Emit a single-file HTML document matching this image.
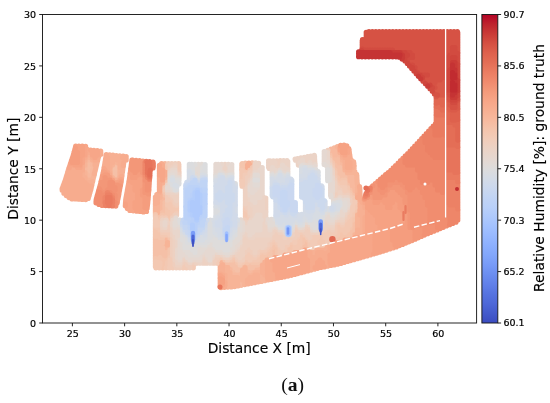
<!DOCTYPE html>
<html><head><meta charset="utf-8"><title>Relative Humidity ground truth</title>
<style>html,body{margin:0;padding:0;background:#fff}svg{display:block}</style></head>
<body><svg width="550" height="403" viewBox="0 0 550 403">
<defs><linearGradient id="cb" x1="0" y1="0" x2="0" y2="1"><stop offset="0" stop-color="#b40426"/><stop offset="0.03125" stop-color="#be242e"/><stop offset="0.0625" stop-color="#ca3b37"/><stop offset="0.09375" stop-color="#d55042"/><stop offset="0.125" stop-color="#de614d"/><stop offset="0.15625" stop-color="#e46e56"/><stop offset="0.1875" stop-color="#eb7d62"/><stop offset="0.21875" stop-color="#f08b6e"/><stop offset="0.25" stop-color="#f49a7b"/><stop offset="0.28125" stop-color="#f7a688"/><stop offset="0.3125" stop-color="#f7b093"/><stop offset="0.34375" stop-color="#f7ba9f"/><stop offset="0.375" stop-color="#f4c5ad"/><stop offset="0.40625" stop-color="#f1cdba"/><stop offset="0.4375" stop-color="#ebd3c6"/><stop offset="0.46875" stop-color="#e5d8d1"/><stop offset="0.5" stop-color="#dddcdc"/><stop offset="0.53125" stop-color="#d4dbe6"/><stop offset="0.5625" stop-color="#cbd8ee"/><stop offset="0.59375" stop-color="#c1d4f4"/><stop offset="0.625" stop-color="#b9d0f9"/><stop offset="0.65625" stop-color="#aec9fc"/><stop offset="0.6875" stop-color="#a2c1ff"/><stop offset="0.71875" stop-color="#97b8ff"/><stop offset="0.75" stop-color="#8caffe"/><stop offset="0.78125" stop-color="#82a6fb"/><stop offset="0.8125" stop-color="#779af7"/><stop offset="0.84375" stop-color="#6b8df0"/><stop offset="0.875" stop-color="#6180e9"/><stop offset="0.90625" stop-color="#5673e0"/><stop offset="0.9375" stop-color="#4e68d8"/><stop offset="0.96875" stop-color="#445acc"/><stop offset="1" stop-color="#3b4cc0"/></linearGradient></defs>
<rect width="550" height="403" fill="#fff"/>
<g fill="none" stroke-linecap="round" stroke-width="5.2"><path stroke="#f6bda2" d="M87.5 162.5h0M90 162.5h0M87.5 165h0M90 165h0M87.5 167.5h0M90 167.5h0M92.5 167.5h0M87.5 170h0M90 170h0M87.5 172.5h0M90 172.5h0M90 175h0M115 165h0M112.5 167.5h0M117.5 167.5h0M112.5 170h0M117.5 170h0M112.5 172.5h0M117.5 172.5h0M112.5 175h0M117.5 175h0M115 177.5h0M165 182.5h0M165 197.5h0M165 200h0M162.5 205h0M162.5 207.5h0M162.5 210h0M160 215h0M155.4 213h0M247.5 170h0M330 152.5h0M337.5 155h0M332.5 157.5h0M335 157.5h0M337.5 157.5h0M340 157.5h0M332.5 160h0M335 160h0M337.5 160h0M340 160h0M335 162.5h0M337.5 162.5h0M340 162.5h0M337.5 165h0M340 165h0M342.5 167.5h0M345 175h0M347.5 182.5h0M350 187.5h0M352.5 192.5h0M355 215h0M352.5 232.5h0M352.5 235h0M165 237.5h0M167.5 237.5h0M352.5 237.5h0M170 242.5h0M162.5 245h0M170 245h0M320 247.5h0M165 250h0M167.5 250h0M267.5 257.5h0M222.5 260h0M225 262.5h0M230 265h0M260 265h0M232.5 267.5h0M247.5 267.5h0M255 267.5h0M257.5 267.5h0M232.5 270h0M235 270h0M240 270h0M250 270h0M252.5 270h0M232.5 272.5h0M235 272.5h0M237.5 272.5h0M240 272.5h0M250 272.5h0"/><path stroke="#f7b99e" d="M87.5 160h0M90 160h0M92.5 162.5h0M92.5 165h0M85 167.5h0M85 170h0M92.5 170h0M92.5 172.5h0M87.5 175h0M92.5 175h0M87.5 177.5h0M90 177.5h0M115 162.5h0M117.5 165h0M117.5 177.5h0M165 180h0M162.5 190h0M162.5 192.5h0M162.5 195h0M162.5 197.5h0M160 200h0M162.5 200h0M160 202.5h0M162.5 202.5h0M160 205h0M160 207.5h0M160 210h0M160 212.5h0M155.4 211.4h0M165 163.6h0M250 167.5h0M332.5 150h0M335 150h0M337.5 150h0M332.5 152.5h0M335 152.5h0M337.5 152.5h0M332.5 155h0M335 155h0M340 155h0M342.5 162.5h0M342.5 165h0M345 172.5h0M347.5 175h0M350 175h0M352.5 175h0M355 175h0M347.5 177.5h0M350 177.5h0M352.5 177.5h0M355 177.5h0M347.5 180h0M350 180h0M352.5 180h0M355 180h0M350 182.5h0M352.5 182.5h0M355 182.5h0M350 185h0M352.5 185h0M355 185h0M352.5 187.5h0M355 187.5h0M352.5 190h0M355 190h0M355 192.5h0M355 195h0M334.3 147.9h0M331.1 149.2h0M357.5 205h0M357.5 207.5h0M357.5 210h0M357.5 212.5h0M355 217.5h0M355 220h0M355 222.5h0M355 225h0M355 227.5h0M355 230h0M355 232.5h0M165 240h0M167.5 240h0M165 242.5h0M165 245h0M165 247.5h0M167.5 247.5h0M220 262.5h0M262.5 262.5h0M225 265h0M227.5 265h0M245 265h0M230 267.5h0M242.5 267.5h0M260 267.5h0M230 270h0M247.5 270h0M255 270h0M257.5 270h0M260 270h0M247.5 272.5h0M252.5 272.5h0M232.5 275h0M235 275h0M237.5 275h0M240 275h0M250 275h0M240 277.5h0M240 280h0M240 282.5h0M242.5 282.5h0M241.2 285.3h0"/><path stroke="#f5c0a7" d="M115 167.5h0M115 170h0M115 172.5h0M115 175h0M167.5 175h0M167.5 177.5h0M167.5 180h0M165 185h0M165 195h0M165 202.5h0M165 205h0M165 207.5h0M165 210h0M162.5 212.5h0M165 212.5h0M157.5 215h0M165 215h0M252.2 162.9h0M245.4 163h0M330 155h0M335 165h0M335 167.5h0M337.5 167.5h0M340 167.5h0M337.5 170h0M340 170h0M342.5 170h0M337.5 172.5h0M340 172.5h0M342.5 172.5h0M337.5 175h0M340 175h0M342.5 175h0M340 177.5h0M342.5 177.5h0M345 177.5h0M340 180h0M347.5 185h0M350 190h0M352.5 195h0M355 197.5h0M355 212.5h0M352.5 222.5h0M352.5 225h0M352.5 227.5h0M350 230h0M352.5 230h0M350 232.5h0M350 235h0M157.5 237.5h0M350 237.5h0M157.5 240h0M160 240h0M162.5 240h0M170 240h0M305 240h0M157.5 242.5h0M160 242.5h0M162.5 242.5h0M305 242.5h0M307.5 242.5h0M157.5 245h0M160 245h0M302.5 245h0M305 245h0M307.5 245h0M157.5 247.5h0M160 247.5h0M162.5 247.5h0M170 247.5h0M275 247.5h0M290 247.5h0M302.5 247.5h0M305 247.5h0M307.5 247.5h0M157.5 250h0M160 250h0M162.5 250h0M272.5 250h0M275 250h0M290 250h0M302.5 250h0M157.5 252.5h0M160 252.5h0M162.5 252.5h0M165 252.5h0M167.5 252.5h0M272.5 252.5h0M275 252.5h0M157.5 255h0M160 255h0M162.5 255h0M165 255h0M167.5 255h0M267.5 255h0M272.5 255h0M275 255h0M157.5 257.5h0M162.5 257.5h0M165 257.5h0M167.5 257.5h0M265 257.5h0M270 257.5h0M272.5 257.5h0M165 260h0M220 260h0M235 260h0M262.5 260h0M227.5 262.5h0M230 262.5h0M232.5 262.5h0M235 262.5h0M245 262.5h0M250 262.5h0M260 262.5h0M232.5 265h0M235 265h0M237.5 265h0M242.5 265h0M247.5 265h0M250 265h0M252.5 265h0M255 265h0M257.5 265h0M235 267.5h0M237.5 267.5h0M240 267.5h0M250 267.5h0M252.5 267.5h0M237.5 270h0M155.4 237.8h0M155.4 239.4h0M155.4 241h0M155.4 242.6h0M155.4 244.2h0M155.4 245.8h0M155.4 247.4h0M155.4 249h0M155.4 250.6h0M155.4 252.2h0M155.4 253.8h0M155.4 255.4h0M155.4 257h0"/><path stroke="#f7b497" d="M87.5 157.5h0M90 157.5h0M85 162.5h0M85 165h0M85 172.5h0M85 175h0M87.5 180h0M90 180h0M92.9 179.9h0M93.3 178.3h0M93.7 176.8h0M94.1 175.2h0M115 160h0M117.5 162.5h0M112.5 165h0M110 170h0M120 170h0M120 172.5h0M120 175h0M112.5 177.5h0M165 165h0M165 177.5h0M162.5 185h0M162.5 187.5h0M160 195h0M160 197.5h0M157.5 205h0M157.5 207.5h0M157.5 210h0M157.5 212.5h0M155.4 205h0M155.4 206.6h0M155.4 208.2h0M155.4 209.8h0M342.5 160h0M345 170h0M352.5 170h0M347.5 172.5h0M350 172.5h0M352.5 172.5h0M357.5 187.5h0M357.5 190h0M357.5 192.5h0M357.5 202.5h0M357.7 203.8h0M357.4 183.9h0M357.2 182.3h0M357.1 180.7h0M357 179.1h0M356.9 177.5h0M356.9 175.9h0M356.6 174.4h0M354.8 171.5h0M354.1 168.2h0M354.1 166.6h0M337.4 146.7h0M357.5 215h0M357.5 217.5h0M360 217.5h0M357.5 220h0M360 220h0M357.5 222.5h0M360 222.5h0M357.5 225h0M360 225h0M357.5 227.5h0M360 227.5h0M355 235h0M167.5 242.5h0M167.5 245h0M325 245h0M315 247.5h0M317.5 247.5h0M322.5 247.5h0M325 247.5h0M265 260h0M222.5 262.5h0M225 267.5h0M227.5 267.5h0M245 267.5h0M225 270h0M227.5 270h0M242.5 270h0M245 270h0M225 272.5h0M227.5 272.5h0M230 272.5h0M242.5 272.5h0M245 272.5h0M255 272.5h0M257.5 272.5h0M260 272.5h0M227.5 275h0M230 275h0M242.5 275h0M245 275h0M247.5 275h0M252.5 275h0M260 275h0M262.5 275h0M227.5 277.5h0M230 277.5h0M232.5 277.5h0M235 277.5h0M237.5 277.5h0M242.5 277.5h0M245 277.5h0M247.5 277.5h0M260 277.5h0M262.5 277.5h0M265 277.5h0M227.5 280h0M230 280h0M232.5 280h0M235 280h0M237.5 280h0M242.5 280h0M245 280h0M260 280h0M262.5 280h0M227.5 282.5h0M230 282.5h0M232.5 282.5h0M235 282.5h0M237.5 282.5h0M245 282.5h0M227.5 285h0M230 285h0M232.5 285h0M235 285h0M237.5 285h0M220 264.4h0M227.8 287.1h0M231.2 286.9h0M234.6 286.6h0M237.9 285.9h0M244.6 284.6h0M261.3 281.4h0M264.6 280.7h0"/><path stroke="#f4c5ad" d="M167.5 170h0M167.5 172.5h0M167.5 182.5h0M165 192.5h0M167.5 207.5h0M167.5 210h0M170 210h0M167.5 212.5h0M170 212.5h0M162.5 215h0M167.5 215h0M170 215h0M155.4 214.6h0M158.9 217.8h0M169.1 217.8h0M245 165h0M252.5 165h0M245 167.5h0M245 170h0M247.5 215h0M241.8 164h0M241.8 165.6h0M241.8 167.2h0M241.8 168.8h0M242.2 163.6h0M330 157.5h0M332.5 162.5h0M335 170h0M337.5 177.5h0M337.5 180h0M342.5 180h0M345 180h0M340 182.5h0M350 192.5h0M355 210h0M352.5 217.5h0M352.5 220h0M350 227.5h0M157.5 230h0M157.5 232.5h0M160 232.5h0M340 232.5h0M342.5 232.5h0M347.5 232.5h0M157.5 235h0M160 235h0M340 235h0M342.5 235h0M345 235h0M347.5 235h0M160 237.5h0M162.5 237.5h0M170 237.5h0M302.5 237.5h0M305 237.5h0M337.5 237.5h0M340 237.5h0M342.5 237.5h0M345 237.5h0M347.5 237.5h0M302.5 240h0M307.5 240h0M337.5 240h0M340 240h0M342.5 240h0M302.5 242.5h0M272.5 245h0M275 245h0M290 245h0M292.5 245h0M272.5 247.5h0M277.5 247.5h0M287.5 247.5h0M292.5 247.5h0M300 247.5h0M170 250h0M270 250h0M277.5 250h0M287.5 250h0M292.5 250h0M300 250h0M170 252.5h0M262.5 252.5h0M267.5 252.5h0M270 252.5h0M277.5 252.5h0M287.5 252.5h0M290 252.5h0M292.5 252.5h0M170 255h0M260 255h0M262.5 255h0M265 255h0M270 255h0M277.5 255h0M160 257.5h0M260 257.5h0M262.5 257.5h0M157.5 260h0M160 260h0M162.5 260h0M167.5 260h0M225 260h0M232.5 260h0M260 260h0M162.5 262.5h0M165 262.5h0M237.5 262.5h0M247.5 262.5h0M252.5 262.5h0M255 262.5h0M257.5 262.5h0M162.5 265h0M165 265h0M155.4 228.2h0M155.4 229.8h0M155.4 231.4h0M155.4 233h0M155.4 234.6h0M155.4 236.2h0M155.4 258.6h0M155.4 260.2h0M162.7 267.8h0"/><path stroke="#f7b093" d="M87.5 155h0M90 155h0M85 160h0M92.5 160h0M95 162.5h0M95 165h0M82.5 172.5h0M82.5 175h0M82.5 177.5h0M85 177.5h0M85 180h0M87.5 182.5h0M90 182.5h0M90 185h0M91.9 184.6h0M92.2 183h0M92.6 181.5h0M94.4 173.7h0M94.8 172.1h0M95.2 170.6h0M95.6 169h0M95.9 167.4h0M96.3 165.9h0M96.7 164.3h0M97 162.8h0M97.4 161.2h0M110 157.5h0M112.5 157.5h0M115 157.5h0M117.5 157.5h0M120 157.5h0M110 160h0M112.5 160h0M117.5 160h0M120 160h0M122.5 160h0M110 162.5h0M112.5 162.5h0M120 162.5h0M122.5 162.5h0M110 165h0M120 165h0M110 167.5h0M120 167.5h0M110 172.5h0M120 177.5h0M115 180h0M117.5 180h0M122 175h0M122.2 173.4h0M122.5 171.8h0M122.7 170.2h0M122.9 168.6h0M123.1 167.1h0M119.7 155.8h0M116.3 155.5h0M112.9 155.1h0M109.6 154.8h0M165 167.5h0M165 170h0M162.5 182.5h0M157.5 197.5h0M157.5 200h0M157.5 202.5h0M159.4 192.6h0M156.8 194.5h0M155.4 197h0M155.4 198.6h0M155.4 200.2h0M155.4 201.8h0M155.4 203.4h0M247.5 165h0M250 165h0M247.5 167.5h0M248.8 163h0M340 152.5h0M342.5 157.5h0M345 160h0M345 162.5h0M352.5 162.5h0M345 165h0M352.5 165h0M345 167.5h0M352.5 167.5h0M347.5 170h0M350 170h0M357.5 195h0M357.5 200h0M360.2 202.5h0M360.2 200.9h0M354 165h0M353.9 163.4h0M353.6 161.9h0M351 159.7h0M360 202.5h0M360 205h0M362.5 205h0M360 207.5h0M362.5 207.5h0M360 210h0M362.5 210h0M365 210h0M360 212.5h0M362.5 212.5h0M365 212.5h0M360 215h0M362.5 215h0M365 215h0M362.5 217.5h0M362.5 220h0M362.5 222.5h0M362.5 225h0M362.5 227.5h0M357.5 230h0M360 230h0M362.5 230h0M357.5 232.5h0M360 232.5h0M362.5 232.5h0M357.5 235h0M360 235h0M362.5 235h0M327.5 245h0M327.5 247.5h0M310 250h0M312.5 250h0M315 250h0M317.5 250h0M320 250h0M322.5 250h0M325 250h0M327.5 250h0M312.5 252.5h0M315 252.5h0M325 252.5h0M312.5 255h0M315 255h0M265 262.5h0M222.5 265h0M262.5 265h0M265 265h0M222.5 267.5h0M262.5 267.5h0M265 267.5h0M222.5 270h0M262.5 270h0M265 270h0M222.5 272.5h0M262.5 272.5h0M265 272.5h0M225 275h0M255 275h0M257.5 275h0M265 275h0M225 277.5h0M250 277.5h0M252.5 277.5h0M255 277.5h0M257.5 277.5h0M225 280h0M247.5 280h0M250 280h0M252.5 280h0M255 280h0M257.5 280h0M247.5 282.5h0M250 282.5h0M220.2 266h0M220.2 267.6h0M220.2 269.2h0M220.2 270.8h0M220.2 272.4h0M247.9 284h0M251.3 283.3h0M254.6 282.7h0M257.9 282h0M358 201.5h0"/><path stroke="#f3c8b2" d="M167.5 165h0M167.5 167.5h0M165 187.5h0M170 200h0M167.5 202.5h0M170 202.5h0M172.5 202.5h0M167.5 205h0M170 205h0M172.5 205h0M170 207.5h0M172.5 207.5h0M175 207.5h0M172.5 210h0M175 210h0M172.5 212.5h0M175 212.5h0M172.5 215h0M155.4 216.2h0M176.6 211.8h0M176.6 210.2h0M176.6 208.6h0M176.6 207h0M252.5 167.5h0M250 170h0M245 172.5h0M247.5 172.5h0M247.5 212.5h0M241.8 170.4h0M241.8 172h0M241.8 173.6h0M241.8 175.2h0M241.8 176.8h0M241.8 178.4h0M241.8 180h0M245.4 210.1h0M245.4 211.7h0M245.4 213.3h0M245.4 214.9h0M245.4 216.5h0M245.8 217.8h0M332.5 165h0M335 172.5h0M335 175h0M337.5 182.5h0M342.5 182.5h0M345 182.5h0M340 185h0M342.5 185h0M345 185h0M347.5 187.5h0M347.5 190h0M350 195h0M352.5 197.5h0M352.5 200h0M355 200h0M355 202.5h0M354.3 204.5h0M355 205h0M355 207.5h0M352.5 212.5h0M352.5 215h0M350 217.5h0M347.5 220h0M350 220h0M345 222.5h0M347.5 222.5h0M350 222.5h0M337.5 225h0M340 225h0M345 225h0M347.5 225h0M350 225h0M157.5 227.5h0M160 227.5h0M337.5 227.5h0M340 227.5h0M342.5 227.5h0M345 227.5h0M347.5 227.5h0M160 230h0M337.5 230h0M340 230h0M342.5 230h0M345 230h0M347.5 230h0M337.5 232.5h0M345 232.5h0M162.5 235h0M165 235h0M167.5 235h0M300 235h0M302.5 235h0M320 235h0M322.5 235h0M335 235h0M337.5 235h0M300 237.5h0M320 237.5h0M322.5 237.5h0M335 237.5h0M297.5 240h0M300 240h0M317.5 240h0M320 240h0M322.5 240h0M325 240h0M335 240h0M272.5 242.5h0M275 242.5h0M290 242.5h0M292.5 242.5h0M297.5 242.5h0M300 242.5h0M310 242.5h0M317.5 242.5h0M320 242.5h0M322.5 242.5h0M325 242.5h0M277.5 245h0M295 245h0M297.5 245h0M300 245h0M310 245h0M317.5 245h0M320 245h0M322.5 245h0M270 247.5h0M295 247.5h0M297.5 247.5h0M310 247.5h0M267.5 250h0M280 250h0M295 250h0M297.5 250h0M260 252.5h0M265 252.5h0M280 252.5h0M280 255h0M170 257.5h0M232.5 257.5h0M235 257.5h0M257.5 257.5h0M230 260h0M245 260h0M247.5 260h0M252.5 260h0M255 260h0M257.5 260h0M157.5 262.5h0M160 262.5h0M167.5 262.5h0M242.5 262.5h0M157.5 265h0M160 265h0M167.5 265h0M240 265h0M155.4 226.6h0M155.4 261.8h0M155.4 263.4h0M155.4 265h0M155.4 266.6h0M155.9 267.8h0M159.3 267.8h0M166.1 267.8h0M169.5 220.2h0M159.3 220.2h0"/><path stroke="#f7ac8e" d="M87.5 152.5h0M90 152.5h0M85 157.5h0M92.5 157.5h0M95 160h0M82.5 165h0M72.5 167.5h0M75 167.5h0M82.5 167.5h0M70 170h0M72.5 170h0M75 170h0M77.5 170h0M80 170h0M82.5 170h0M70 172.5h0M72.5 172.5h0M75 172.5h0M77.5 172.5h0M80 172.5h0M70 175h0M72.5 175h0M75 175h0M77.5 175h0M80 175h0M67.5 177.5h0M70 177.5h0M72.5 177.5h0M75 177.5h0M77.5 177.5h0M80 177.5h0M67.5 180h0M70 180h0M72.5 180h0M75 180h0M77.5 180h0M80 180h0M82.5 180h0M67.5 182.5h0M70 182.5h0M72.5 182.5h0M75 182.5h0M77.5 182.5h0M80 182.5h0M82.5 182.5h0M85 182.5h0M65 185h0M67.5 185h0M70 185h0M72.5 185h0M75 185h0M77.5 185h0M80 185h0M82.5 185h0M85 185h0M87.5 185h0M65 187.5h0M67.5 187.5h0M70 187.5h0M72.5 187.5h0M75 187.5h0M77.5 187.5h0M80 187.5h0M82.5 187.5h0M85 187.5h0M87.5 187.5h0M90 187.5h0M65 190h0M67.5 190h0M70 190h0M72.5 190h0M75 190h0M77.5 190h0M80 190h0M82.5 190h0M85 190h0M87.5 190h0M65 192.5h0M67.5 192.5h0M70 192.5h0M72.5 192.5h0M75 192.5h0M77.5 192.5h0M80 192.5h0M82.5 192.5h0M85 192.5h0M87.5 192.5h0M67.5 195h0M70 195h0M72.5 195h0M75 195h0M77.5 195h0M80 195h0M82.5 195h0M85 195h0M87.5 195h0M72.5 197.5h0M75 197.5h0M77.5 197.5h0M80 197.5h0M82.5 197.5h0M85 197.5h0M68.7 169.2h0M68.2 170.7h0M67.7 172.2h0M67.3 173.8h0M66.8 175.3h0M66.3 176.8h0M65.9 178.4h0M65.4 179.9h0M64.9 181.4h0M64.3 182.9h0M63.8 184.4h0M63.2 185.9h0M62.7 187.4h0M62.1 188.9h0M62.2 190.3h0M63.9 193.2h0M66.3 195.6h0M69.1 197.6h0M72.1 198.9h0M75.5 199h0M78.9 199.2h0M82.3 199.4h0M85.7 199.6h0M88.2 198.5h0M88.6 197h0M89.1 195.4h0M89.5 193.9h0M90 192.3h0M90.4 190.8h0M90.9 189.3h0M91.2 187.7h0M91.6 186.1h0M97.8 159.7h0M98.2 158.1h0M98.7 156.6h0M100.8 154.2h0M100.8 152.6h0M100.7 151h0M87.2 149.4h0M107.5 157.5h0M122.5 157.5h0M125 157.5h0M107.5 160h0M107.5 162.5h0M107.5 165h0M107.5 167.5h0M107.5 170h0M110 175h0M106.3 154.5h0M106 156h0M105.8 157.6h0M105.5 159.2h0M105.3 160.8h0M105 162.4h0M104.8 163.9h0M104.5 165.5h0M104.2 167.1h0M121.6 178.1h0M121.8 176.6h0M123.4 165.5h0M123.6 163.9h0M123.9 162.3h0M126.2 159.9h0M126.2 158.3h0M126.2 156.7h0M123.1 156.2h0M162.5 165h0M162.5 167.5h0M165 172.5h0M165 175h0M159.4 176.6h0M159.4 178.2h0M159.4 179.8h0M159.4 181.4h0M159.4 183h0M159.4 184.6h0M159.4 186.2h0M159.4 187.8h0M159.4 189.4h0M159.4 191h0M161.6 163.6h0M342.5 155h0M347.5 155h0M345 157.5h0M347.5 157.5h0M347.5 160h0M347.5 162.5h0M350 162.5h0M347.5 165h0M350 165h0M347.5 167.5h0M350 167.5h0M357.5 197.5h0M360.2 199.3h0M360.2 197.7h0M360.2 196.1h0M360.1 194.5h0M360 192.9h0M360 191.3h0M359.9 189.7h0M359.8 188.1h0M359.5 186.6h0M350 156.6h0M349.8 155h0M349.5 153.4h0M349.3 151.8h0M349.1 150.2h0M362.5 202.5h0M365 205h0M365 207.5h0M365 217.5h0M365 220h0M365 222.5h0M365 225h0M365 227.5h0M365 230h0M365 232.5h0M330 245h0M330 247.5h0M307.5 250h0M330 250h0M307.5 252.5h0M310 252.5h0M317.5 252.5h0M320 252.5h0M322.5 252.5h0M327.5 252.5h0M330 252.5h0M307.5 255h0M310 255h0M317.5 255h0M320 255h0M322.5 255h0M325 255h0M327.5 255h0M307.5 257.5h0M310 257.5h0M312.5 257.5h0M315 257.5h0M317.5 257.5h0M320 257.5h0M322.5 257.5h0M325 257.5h0M327.5 257.5h0M267.5 260h0M270 260h0M310 260h0M312.5 260h0M315 260h0M317.5 260h0M322.5 260h0M325 260h0M327.5 260h0M267.5 262.5h0M270 262.5h0M272.5 262.5h0M310 262.5h0M312.5 262.5h0M315 262.5h0M325 262.5h0M327.5 262.5h0M267.5 265h0M270 265h0M272.5 265h0M310 265h0M312.5 265h0M315 265h0M325 265h0M327.5 265h0M267.5 267.5h0M270 267.5h0M272.5 267.5h0M310 267.5h0M312.5 267.5h0M267.5 270h0M270 270h0M272.5 270h0M267.5 272.5h0M270 272.5h0M272.5 272.5h0M275 272.5h0M222.5 275h0M267.5 275h0M270 275h0M272.5 275h0M275 275h0M267.5 277.5h0M270 277.5h0M272.5 277.5h0M275 277.5h0M225 282.5h0M225 285h0M220.2 274h0M224.4 287.3h0M267.9 280h0M271.3 279.4h0M274.6 278.7h0M311 270.1h0M314.3 269.2h0M327.5 266.2h0M361.3 200.6h0"/><path stroke="#f2cbb7" d="M177.5 165h0M177.5 167.5h0M177.5 170h0M165 190h0M167.5 195h0M167.5 197.5h0M170 197.5h0M167.5 200h0M172.5 200h0M175 205h0M155.5 217.8h0M162.3 217.8h0M165.7 217.8h0M176.6 213.4h0M176.6 205.4h0M178.9 171.2h0M178.9 169.6h0M178.9 168h0M178.9 166.4h0M178.9 164.8h0M178.6 163.6h0M168.4 163.6h0M252.5 170h0M245 175h0M247.5 175h0M245 177.5h0M245 180h0M245 182.5h0M245 185h0M247.5 210h0M241.8 181.6h0M241.8 183.2h0M241.8 184.8h0M242.1 186.2h0M245.1 187.7h0M245.4 206.9h0M245.4 208.5h0M249.2 217.8h0M330 160h0M332.5 167.5h0M335 177.5h0M337.5 185h0M340 187.5h0M342.5 187.5h0M345 187.5h0M342.5 190h0M345 190h0M342.5 192.5h0M345 192.5h0M347.5 192.5h0M345 195h0M350 197.5h0M352.5 202.5h0M351 205.3h0M350 205h0M352.5 205h0M350 207.5h0M352.5 207.5h0M350 210h0M352.5 210h0M350 212.5h0M347.5 215h0M350 215h0M347.5 217.5h0M345 220h0M157.5 222.5h0M160 222.5h0M170 222.5h0M337.5 222.5h0M340 222.5h0M157.5 225h0M160 225h0M335 225h0M342.5 225h0M335 227.5h0M327.5 230h0M330 230h0M335 230h0M162.5 232.5h0M165 232.5h0M167.5 232.5h0M170 232.5h0M300 232.5h0M302.5 232.5h0M320 232.5h0M322.5 232.5h0M325 232.5h0M327.5 232.5h0M330 232.5h0M332.5 232.5h0M335 232.5h0M170 235h0M305 235h0M312.5 235h0M315 235h0M317.5 235h0M325 235h0M327.5 235h0M330 235h0M332.5 235h0M297.5 237.5h0M307.5 237.5h0M312.5 237.5h0M315 237.5h0M317.5 237.5h0M325 237.5h0M327.5 237.5h0M330 237.5h0M332.5 237.5h0M272.5 240h0M275 240h0M292.5 240h0M295 240h0M310 240h0M312.5 240h0M315 240h0M327.5 240h0M330 240h0M332.5 240h0M270 242.5h0M277.5 242.5h0M295 242.5h0M312.5 242.5h0M315 242.5h0M327.5 242.5h0M330 242.5h0M332.5 242.5h0M270 245h0M285 245h0M287.5 245h0M312.5 245h0M315 245h0M267.5 247.5h0M280 247.5h0M285 247.5h0M312.5 247.5h0M260 250h0M262.5 250h0M265 250h0M282.5 250h0M285 250h0M247.5 252.5h0M250 252.5h0M282.5 252.5h0M285 252.5h0M245 255h0M247.5 255h0M250 255h0M252.5 255h0M257.5 255h0M282.5 255h0M172.5 257.5h0M220 257.5h0M222.5 257.5h0M245 257.5h0M247.5 257.5h0M250 257.5h0M252.5 257.5h0M255 257.5h0M170 260h0M172.5 260h0M217.5 260h0M227.5 260h0M237.5 260h0M250 260h0M170 262.5h0M172.5 262.5h0M185 262.5h0M240 262.5h0M170 265h0M172.5 265h0M182.5 265h0M185 265h0M192.5 265h0M155.4 220.2h0M155.4 221.8h0M155.4 223.4h0M155.4 225h0M169.5 267.8h0M172.9 267.8h0M183.1 267.8h0M186.5 267.8h0M193.3 267.8h0M193.9 264.8h0M217 263.2h0M354.7 202.3h0M351.4 203.2h0M247.7 219.8h0M155.9 220.2h0"/><path stroke="#f7a688" d="M85 150h0M85 152.5h0M92.5 152.5h0M95 152.5h0M97.5 152.5h0M85 155h0M92.5 155h0M95 155h0M97.5 155h0M82.5 157.5h0M95 157.5h0M82.5 160h0M82.5 162.5h0M72.5 165h0M77.5 167.5h0M80 167.5h0M70.2 164.6h0M69.7 166.1h0M69.2 167.7h0M97.3 150.7h0M93.9 150.3h0M90.6 150h0M85.6 146.4h0M105 170h0M107.5 172.5h0M120 180h0M104 168.7h0M103.7 170.3h0M121.3 179.7h0M130 182.5h0M130 185h0M132.5 185h0M130 187.5h0M132.5 187.5h0M130 190h0M132.5 190h0M130 192.5h0M132.5 192.5h0M135 192.5h0M130 195h0M132.5 195h0M135 195h0M127.5 197.5h0M130 197.5h0M132.5 197.5h0M135 197.5h0M127.5 200h0M130 200h0M132.5 200h0M135 200h0M127.5 202.5h0M130 202.5h0M132.5 202.5h0M127.5 205h0M130 205h0M132.5 205h0M130 207.5h0M132.5 207.5h0M128.9 182.1h0M128.6 183.7h0M128.3 185.3h0M128 186.9h0M127.7 188.4h0M127.4 190h0M127.2 191.6h0M126.9 193.2h0M126.6 194.7h0M126.3 196.3h0M126 197.9h0M125.7 199.5h0M125.6 201h0M125.5 202.6h0M127.4 208.4h0M129.9 210.4h0M133.3 210.8h0M162.5 170h0M162.5 172.5h0M162.5 175h0M162.5 177.5h0M162.5 180h0M159.4 165.4h0M159.4 167h0M159.4 168.6h0M159.4 170.2h0M159.4 171.8h0M159.4 173.4h0M159.4 175h0M340 147.5h0M340 150h0M347.5 150h0M347.5 152.5h0M345 155h0M348.7 148.7h0M365 202.5h0M367.5 210h0M367.5 212.5h0M370 212.5h0M367.5 215h0M370 215h0M372.5 215h0M367.5 217.5h0M370 217.5h0M372.5 217.5h0M375 217.5h0M367.5 220h0M370 220h0M372.5 220h0M375 220h0M367.5 222.5h0M370 222.5h0M372.5 222.5h0M375 222.5h0M367.5 225h0M370 225h0M372.5 225h0M375 225h0M377.5 225h0M367.5 227.5h0M370 227.5h0M372.5 227.5h0M375 227.5h0M377.5 227.5h0M367.5 230h0M370 230h0M372.5 230h0M375 230h0M377.5 230h0M367.5 232.5h0M370 232.5h0M372.5 232.5h0M365 235h0M367.5 235h0M370 235h0M372.5 235h0M355 237.5h0M357.5 237.5h0M360 237.5h0M362.5 237.5h0M365 237.5h0M367.5 237.5h0M370 237.5h0M372.5 237.5h0M345 240h0M347.5 240h0M350 240h0M352.5 240h0M355 240h0M357.5 240h0M360 240h0M362.5 240h0M365 240h0M367.5 240h0M370 240h0M372.5 240h0M335 242.5h0M337.5 242.5h0M340 242.5h0M342.5 242.5h0M345 242.5h0M347.5 242.5h0M350 242.5h0M352.5 242.5h0M355 242.5h0M357.5 242.5h0M360 242.5h0M362.5 242.5h0M365 242.5h0M367.5 242.5h0M370 242.5h0M372.5 242.5h0M332.5 245h0M335 245h0M337.5 245h0M340 245h0M342.5 245h0M345 245h0M347.5 245h0M350 245h0M352.5 245h0M355 245h0M357.5 245h0M360 245h0M362.5 245h0M365 245h0M367.5 245h0M370 245h0M372.5 245h0M332.5 247.5h0M335 247.5h0M337.5 247.5h0M340 247.5h0M342.5 247.5h0M345 247.5h0M347.5 247.5h0M350 247.5h0M352.5 247.5h0M355 247.5h0M357.5 247.5h0M360 247.5h0M362.5 247.5h0M365 247.5h0M367.5 247.5h0M370 247.5h0M372.5 247.5h0M305 250h0M332.5 250h0M335 250h0M337.5 250h0M340 250h0M342.5 250h0M345 250h0M347.5 250h0M350 250h0M352.5 250h0M355 250h0M357.5 250h0M360 250h0M362.5 250h0M365 250h0M367.5 250h0M370 250h0M372.5 250h0M295 252.5h0M297.5 252.5h0M300 252.5h0M302.5 252.5h0M305 252.5h0M332.5 252.5h0M335 252.5h0M337.5 252.5h0M340 252.5h0M342.5 252.5h0M345 252.5h0M347.5 252.5h0M350 252.5h0M352.5 252.5h0M355 252.5h0M357.5 252.5h0M360 252.5h0M362.5 252.5h0M365 252.5h0M367.5 252.5h0M370 252.5h0M372.5 252.5h0M285 255h0M287.5 255h0M290 255h0M292.5 255h0M295 255h0M297.5 255h0M300 255h0M302.5 255h0M305 255h0M330 255h0M332.5 255h0M335 255h0M337.5 255h0M340 255h0M342.5 255h0M345 255h0M347.5 255h0M350 255h0M352.5 255h0M355 255h0M357.5 255h0M360 255h0M362.5 255h0M365 255h0M275 257.5h0M277.5 257.5h0M280 257.5h0M282.5 257.5h0M285 257.5h0M287.5 257.5h0M290 257.5h0M292.5 257.5h0M295 257.5h0M297.5 257.5h0M300 257.5h0M302.5 257.5h0M305 257.5h0M330 257.5h0M332.5 257.5h0M335 257.5h0M337.5 257.5h0M340 257.5h0M342.5 257.5h0M345 257.5h0M347.5 257.5h0M350 257.5h0M352.5 257.5h0M355 257.5h0M357.5 257.5h0M272.5 260h0M275 260h0M277.5 260h0M280 260h0M282.5 260h0M285 260h0M287.5 260h0M290 260h0M292.5 260h0M295 260h0M297.5 260h0M300 260h0M302.5 260h0M305 260h0M307.5 260h0M320 260h0M330 260h0M332.5 260h0M335 260h0M337.5 260h0M340 260h0M342.5 260h0M345 260h0M347.5 260h0M275 262.5h0M277.5 262.5h0M280 262.5h0M282.5 262.5h0M285 262.5h0M287.5 262.5h0M290 262.5h0M292.5 262.5h0M295 262.5h0M297.5 262.5h0M300 262.5h0M302.5 262.5h0M305 262.5h0M307.5 262.5h0M317.5 262.5h0M320 262.5h0M322.5 262.5h0M330 262.5h0M332.5 262.5h0M335 262.5h0M337.5 262.5h0M340 262.5h0M275 265h0M277.5 265h0M280 265h0M282.5 265h0M285 265h0M287.5 265h0M290 265h0M292.5 265h0M295 265h0M297.5 265h0M300 265h0M302.5 265h0M305 265h0M307.5 265h0M317.5 265h0M320 265h0M322.5 265h0M275 267.5h0M277.5 267.5h0M280 267.5h0M282.5 267.5h0M285 267.5h0M287.5 267.5h0M290 267.5h0M292.5 267.5h0M295 267.5h0M297.5 267.5h0M300 267.5h0M302.5 267.5h0M305 267.5h0M307.5 267.5h0M315 267.5h0M275 270h0M277.5 270h0M280 270h0M282.5 270h0M285 270h0M287.5 270h0M290 270h0M292.5 270h0M295 270h0M297.5 270h0M300 270h0M302.5 270h0M305 270h0M277.5 272.5h0M280 272.5h0M282.5 272.5h0M285 272.5h0M287.5 272.5h0M290 272.5h0M292.5 272.5h0M295 272.5h0M297.5 272.5h0M277.5 275h0M280 275h0M282.5 275h0M285 275h0M287.5 275h0M222.5 277.5h0M222.5 285h0M220.2 275.6h0M220.2 277.2h0M220.2 286.8h0M221 287.6h0M277.9 278.1h0M281.3 277.4h0M284.6 276.8h0M288 276.1h0M291.3 275.3h0M294.6 274.5h0M297.8 273.6h0M301.1 272.7h0M304.4 271.8h0M307.7 271h0M317.5 268.3h0M320.9 267.5h0M324.2 266.9h0M330.9 265.5h0M334.2 264.9h0M337.5 264.2h0M340.8 263.4h0M344.1 262.5h0M347.4 261.5h0M350.6 260.6h0M353.9 259.7h0M357.2 258.7h0M360.4 257.8h0M363.7 256.8h0M367 255.9h0M370.2 255h0"/><path stroke="#efcebd" d="M170 165h0M172.5 165h0M170 167.5h0M177.5 172.5h0M170 195h0M172.5 197.5h0M175 200h0M175 202.5h0M175 215h0M172.5 217.8h0M176.6 215h0M176.6 203.8h0M176.6 202.2h0M178.9 172.8h0M175.2 163.6h0M171.8 163.6h0M250 172.5h0M252.5 172.5h0M250 175h0M247.5 177.5h0M250 177.5h0M247.5 180h0M247.5 182.5h0M247.5 185h0M247.5 205h0M247.5 207.5h0M250 215h0M245.4 189.3h0M245.4 205.3h0M330 162.5h0M335 180h0M337.5 187.5h0M337.5 190h0M340 190h0M335 192.5h0M337.5 192.5h0M335 195h0M337.5 195h0M342.5 195h0M347.5 195h0M335 197.5h0M350 200h0M350 202.5h0M327.9 150.4h0M347.5 212.5h0M345 217.5h0M335 222.5h0M342.5 222.5h0M167.5 225h0M170 225h0M167.5 227.5h0M170 227.5h0M307.5 227.5h0M330 227.5h0M162.5 230h0M165 230h0M167.5 230h0M170 230h0M275 230h0M295 230h0M297.5 230h0M305 230h0M307.5 230h0M310 230h0M325 230h0M332.5 230h0M275 232.5h0M277.5 232.5h0M295 232.5h0M297.5 232.5h0M305 232.5h0M307.5 232.5h0M310 232.5h0M315 232.5h0M272.5 235h0M275 235h0M277.5 235h0M280 235h0M282.5 235h0M295 235h0M297.5 235h0M307.5 235h0M310 235h0M172.5 237.5h0M272.5 237.5h0M275 237.5h0M277.5 237.5h0M280 237.5h0M282.5 237.5h0M287.5 237.5h0M290 237.5h0M292.5 237.5h0M295 237.5h0M310 237.5h0M172.5 240h0M270 240h0M277.5 240h0M280 240h0M282.5 240h0M285 240h0M287.5 240h0M290 240h0M172.5 242.5h0M267.5 242.5h0M280 242.5h0M282.5 242.5h0M285 242.5h0M287.5 242.5h0M172.5 245h0M267.5 245h0M280 245h0M282.5 245h0M172.5 247.5h0M247.5 247.5h0M250 247.5h0M260 247.5h0M265 247.5h0M282.5 247.5h0M172.5 250h0M245 250h0M247.5 250h0M250 250h0M252.5 250h0M257.5 250h0M172.5 252.5h0M245 252.5h0M252.5 252.5h0M257.5 252.5h0M172.5 255h0M232.5 255h0M235 255h0M255 255h0M215 257.5h0M217.5 257.5h0M230 257.5h0M237.5 257.5h0M242.5 257.5h0M185 260h0M212.5 260h0M215 260h0M240 260h0M242.5 260h0M175 262.5h0M182.5 262.5h0M187.5 262.5h0M192.5 262.5h0M175 265h0M187.5 265h0M190 265h0M176.3 267.8h0M179.7 267.8h0M189.9 267.8h0M213.6 263.2h0M244.3 219.9h0"/><path stroke="#f6a283" d="M77.5 147.5h0M80 147.5h0M82.5 147.5h0M77.5 150h0M80 150h0M82.5 150h0M80 152.5h0M82.5 152.5h0M80 155h0M82.5 155h0M80 157.5h0M80 160h0M80 162.5h0M75 165h0M77.5 165h0M80 165h0M75.7 146.2h0M71.2 161.6h0M70.7 163.1h0M82.3 146.2h0M78.9 146.2h0M105 172.5h0M110 177.5h0M112.5 180h0M115 182.5h0M117.5 182.5h0M103.4 171.8h0M103 173.4h0M102.7 174.9h0M121.1 181.3h0M140 175h0M137.5 177.5h0M140 177.5h0M142.5 177.5h0M132.5 180h0M135 180h0M137.5 180h0M140 180h0M142.5 180h0M132.5 182.5h0M135 182.5h0M137.5 182.5h0M140 182.5h0M142.5 182.5h0M135 185h0M137.5 185h0M140 185h0M142.5 185h0M135 187.5h0M137.5 187.5h0M140 187.5h0M142.5 187.5h0M135 190h0M137.5 190h0M140 190h0M137.5 192.5h0M140 192.5h0M137.5 195h0M140 195h0M137.5 197.5h0M140 197.5h0M142.5 197.5h0M137.5 200h0M140 200h0M142.5 200h0M135 202.5h0M137.5 202.5h0M140 202.5h0M142.5 202.5h0M135 205h0M137.5 205h0M140 205h0M142.5 205h0M135 207.5h0M137.5 207.5h0M140 207.5h0M142.5 207.5h0M137.5 210h0M140 210h0M142.5 210h0M145 210h0M130 174.2h0M129.8 175.8h0M129.6 177.4h0M129.4 179h0M129.2 180.6h0M125.4 204.2h0M125.3 205.8h0M136.7 211.2h0M140.1 211.5h0M143.4 211.9h0M146.5 211.5h0M342.5 147.5h0M345 147.5h0M342.5 150h0M345 150h0M342.5 152.5h0M345 152.5h0M346.8 145.9h0M344 145h0M340.6 145.4h0M370 197.5h0M367.5 200h0M370 200h0M372.5 200h0M395 200h0M367.5 202.5h0M370 202.5h0M372.5 202.5h0M380 202.5h0M382.5 202.5h0M395 202.5h0M397.5 202.5h0M367.5 205h0M370 205h0M372.5 205h0M375 205h0M377.5 205h0M380 205h0M382.5 205h0M385 205h0M392.5 205h0M395 205h0M397.5 205h0M367.5 207.5h0M370 207.5h0M372.5 207.5h0M375 207.5h0M377.5 207.5h0M380 207.5h0M382.5 207.5h0M385 207.5h0M392.5 207.5h0M395 207.5h0M397.5 207.5h0M370 210h0M372.5 210h0M375 210h0M377.5 210h0M380 210h0M382.5 210h0M385 210h0M387.5 210h0M390 210h0M392.5 210h0M395 210h0M397.5 210h0M400 210h0M372.5 212.5h0M375 212.5h0M377.5 212.5h0M380 212.5h0M382.5 212.5h0M385 212.5h0M387.5 212.5h0M390 212.5h0M392.5 212.5h0M395 212.5h0M397.5 212.5h0M400 212.5h0M402.5 212.5h0M375 215h0M377.5 215h0M380 215h0M382.5 215h0M385 215h0M387.5 215h0M390 215h0M392.5 215h0M395 215h0M397.5 215h0M400 215h0M402.5 215h0M377.5 217.5h0M380 217.5h0M382.5 217.5h0M385 217.5h0M387.5 217.5h0M390 217.5h0M392.5 217.5h0M395 217.5h0M397.5 217.5h0M400 217.5h0M402.5 217.5h0M405 217.5h0M377.5 220h0M380 220h0M382.5 220h0M385 220h0M387.5 220h0M390 220h0M392.5 220h0M395 220h0M397.5 220h0M400 220h0M402.5 220h0M405 220h0M377.5 222.5h0M380 222.5h0M382.5 222.5h0M385 222.5h0M387.5 222.5h0M390 222.5h0M392.5 222.5h0M395 222.5h0M397.5 222.5h0M400 222.5h0M402.5 222.5h0M405 222.5h0M380 225h0M382.5 225h0M385 225h0M387.5 225h0M390 225h0M392.5 225h0M395 225h0M397.5 225h0M400 225h0M405 225h0M380 227.5h0M382.5 227.5h0M385 227.5h0M387.5 227.5h0M390 227.5h0M392.5 227.5h0M405 227.5h0M380 230h0M382.5 230h0M385 230h0M387.5 230h0M390 230h0M375 232.5h0M377.5 232.5h0M380 232.5h0M382.5 232.5h0M385 232.5h0M387.5 232.5h0M390 232.5h0M375 235h0M377.5 235h0M380 235h0M382.5 235h0M385 235h0M387.5 235h0M390 235h0M375 237.5h0M377.5 237.5h0M380 237.5h0M382.5 237.5h0M385 237.5h0M387.5 237.5h0M390 237.5h0M375 240h0M377.5 240h0M380 240h0M382.5 240h0M385 240h0M387.5 240h0M390 240h0M375 242.5h0M377.5 242.5h0M380 242.5h0M382.5 242.5h0M385 242.5h0M387.5 242.5h0M390 242.5h0M392.5 242.5h0M375 245h0M377.5 245h0M380 245h0M382.5 245h0M385 245h0M387.5 245h0M390 245h0M392.5 245h0M375 247.5h0M377.5 247.5h0M380 247.5h0M382.5 247.5h0M385 247.5h0M387.5 247.5h0M390 247.5h0M375 250h0M377.5 250h0M380 250h0M382.5 250h0M375 252.5h0M222.5 280h0M222.5 282.5h0M220.2 278.8h0M220.2 280.4h0M220.2 282h0M220.2 283.6h0M220.2 285.2h0M373.5 254h0M376.8 253.1h0M380 252.1h0M383.3 251.1h0M386.5 250.1h0M389.8 249h0M393 248h0"/><path stroke="#edd1c2" d="M175 165h0M172.5 167.5h0M170 170h0M167.5 192.5h0M170 192.5h0M172.5 195h0M175 195h0M175 197.5h0M176.6 200.6h0M176.6 199h0M176.6 197.4h0M176.6 195.8h0M176.6 194.2h0M178.9 174.4h0M252.5 175h0M250 180h0M247.5 187.5h0M247.5 190h0M247.5 192.5h0M247.5 195h0M247.5 197.5h0M247.5 200h0M247.5 202.5h0M250 202.5h0M250 205h0M250 207.5h0M252.5 207.5h0M250 210h0M252.5 210h0M250 212.5h0M252.5 212.5h0M252.5 215h0M245.4 190.9h0M245.4 192.5h0M245.4 194.1h0M245.4 195.7h0M245.4 197.3h0M245.4 198.9h0M245.4 200.5h0M245.4 202.1h0M245.4 203.7h0M252.6 217.8h0M265.8 210.9h0M265.8 209.3h0M265.8 207.7h0M265.8 206.1h0M265.8 204.5h0M265.8 202.9h0M265.8 201.3h0M265.8 199.7h0M265.8 198.1h0M277.5 162.5h0M280 162.5h0M277.5 165h0M280 165h0M277.5 167.5h0M280.2 160.7h0M276.8 160.8h0M332.5 170h0M335 182.5h0M335 185h0M335 187.5h0M335 190h0M340 192.5h0M340 195h0M337.5 197.5h0M347.5 210h0M345 215h0M337.5 220h0M340 220h0M342.5 220h0M167.5 222.5h0M245 222.5h0M247.5 222.5h0M307.5 225h0M162.5 227.5h0M275 227.5h0M295 227.5h0M297.5 227.5h0M305 227.5h0M310 227.5h0M327.5 227.5h0M332.5 227.5h0M272.5 230h0M277.5 230h0M300 230h0M302.5 230h0M320 230h0M322.5 230h0M172.5 232.5h0M272.5 232.5h0M280 232.5h0M282.5 232.5h0M292.5 232.5h0M312.5 232.5h0M317.5 232.5h0M172.5 235h0M245 235h0M285 235h0M287.5 235h0M290 235h0M292.5 235h0M242.5 237.5h0M245 237.5h0M247.5 237.5h0M255 237.5h0M257.5 237.5h0M260 237.5h0M262.5 237.5h0M265 237.5h0M267.5 237.5h0M270 237.5h0M285 237.5h0M175 240h0M242.5 240h0M245 240h0M247.5 240h0M250 240h0M252.5 240h0M255 240h0M257.5 240h0M260 240h0M262.5 240h0M265 240h0M267.5 240h0M175 242.5h0M242.5 242.5h0M245 242.5h0M247.5 242.5h0M250 242.5h0M252.5 242.5h0M255 242.5h0M257.5 242.5h0M260 242.5h0M262.5 242.5h0M265 242.5h0M175 245h0M242.5 245h0M245 245h0M247.5 245h0M250 245h0M252.5 245h0M255 245h0M257.5 245h0M260 245h0M262.5 245h0M265 245h0M175 247.5h0M240 247.5h0M242.5 247.5h0M245 247.5h0M252.5 247.5h0M255 247.5h0M257.5 247.5h0M262.5 247.5h0M175 250h0M240 250h0M242.5 250h0M255 250h0M175 252.5h0M237.5 252.5h0M240 252.5h0M242.5 252.5h0M255 252.5h0M175 255h0M215 255h0M217.5 255h0M220 255h0M237.5 255h0M240 255h0M242.5 255h0M175 257.5h0M185 257.5h0M205 257.5h0M225 257.5h0M227.5 257.5h0M240 257.5h0M175 260h0M182.5 260h0M202.5 260h0M205 260h0M177.5 265h0M180 265h0M196.6 263.2h0M203.4 263.2h0M206.8 263.2h0M162.7 220.2h0"/><path stroke="#f59d7e" d="M77.5 152.5h0M75 155h0M77.5 155h0M75 157.5h0M77.5 157.5h0M75 160h0M77.5 160h0M72.5 162.5h0M75 162.5h0M77.5 162.5h0M75.3 147.8h0M74.9 149.3h0M74.5 150.9h0M74 152.4h0M73.6 154h0M73.2 155.5h0M72.7 157h0M72.2 158.5h0M71.7 160.1h0M105 175h0M107.5 175h0M107.5 177.5h0M102.3 176.5h0M102 178.1h0M101.6 179.6h0M101.2 181.2h0M120.6 184.5h0M120.9 182.9h0M140 170h0M132.5 172.5h0M137.5 172.5h0M140 172.5h0M132.5 175h0M135 175h0M137.5 175h0M142.5 175h0M132.5 177.5h0M135 177.5h0M142.5 190h0M142.5 192.5h0M142.5 195h0M145 195h0M145 197.5h0M145 200h0M145 202.5h0M145 205h0M145 207.5h0M130.7 169.5h0M130.5 171.1h0M130.3 172.6h0M147.1 208.2h0M147.3 206.6h0M147.5 205h0M147.7 203.5h0M147.8 201.9h0M148 200.3h0M148.2 198.7h0M148.3 197.1h0M148.4 195.5h0M390 190h0M392.5 190h0M395 190h0M387.5 192.5h0M390 192.5h0M392.5 192.5h0M395 192.5h0M397.5 192.5h0M370 195h0M372.5 195h0M387.5 195h0M390 195h0M392.5 195h0M395 195h0M397.5 195h0M400 195h0M372.5 197.5h0M382.5 197.5h0M385 197.5h0M387.5 197.5h0M390 197.5h0M392.5 197.5h0M395 197.5h0M397.5 197.5h0M400 197.5h0M402.5 197.5h0M375 200h0M377.5 200h0M380 200h0M382.5 200h0M385 200h0M387.5 200h0M390 200h0M392.5 200h0M397.5 200h0M400 200h0M402.5 200h0M375 202.5h0M377.5 202.5h0M385 202.5h0M387.5 202.5h0M390 202.5h0M392.5 202.5h0M400 202.5h0M402.5 202.5h0M387.5 205h0M390 205h0M400 205h0M402.5 205h0M405 205h0M387.5 207.5h0M390 207.5h0M400 207.5h0M402.5 207.5h0M405 207.5h0M402.5 210h0M405 210h0M405 212.5h0M407.5 212.5h0M405 215h0M407.5 215h0M407.5 217.5h0M407.5 220h0M407.5 222.5h0M402.5 225h0M407.5 225h0M395 227.5h0M397.5 227.5h0M400 227.5h0M402.5 227.5h0M407.5 227.5h0M392.5 230h0M395 230h0M397.5 230h0M400 230h0M402.5 230h0M405 230h0M407.5 230h0M410 230h0M412.5 230h0M392.5 232.5h0M395 232.5h0M397.5 232.5h0M400 232.5h0M402.5 232.5h0M405 232.5h0M407.5 232.5h0M410 232.5h0M412.5 232.5h0M392.5 235h0M395 235h0M397.5 235h0M400 235h0M402.5 235h0M405 235h0M407.5 235h0M410 235h0M412.5 235h0M392.5 237.5h0M395 237.5h0M397.5 237.5h0M400 237.5h0M402.5 237.5h0M405 237.5h0M407.5 237.5h0M410 237.5h0M412.5 237.5h0M392.5 240h0M395 240h0M397.5 240h0M400 240h0M402.5 240h0M405 240h0M407.5 240h0M410 240h0M395 242.5h0M397.5 242.5h0M400 242.5h0M402.5 242.5h0M395 245h0M397.5 245h0M396.2 246.9h0M399.4 245.6h0M402.5 244.4h0M405.7 243.1h0M408.8 241.8h0M412 240.6h0M364.3 199.3h0"/><path stroke="#ebd3c6" d="M175 167.5h0M177.5 175h0M167.5 185h0M172.5 192.5h0M175 192.5h0M176.6 192.6h0M178.9 176h0M222.5 167.5h0M225 167.5h0M227.5 167.5h0M222.5 170h0M225 170h0M227.5 170h0M225 172.5h0M225 164.4h0M255 165h0M257.5 165h0M255 167.5h0M257.5 167.5h0M255 170h0M257.5 170h0M252.5 177.5h0M250 182.5h0M250 197.5h0M250 200h0M257.5 200h0M260 200h0M262.5 200h0M252.5 202.5h0M257.5 202.5h0M260 202.5h0M262.5 202.5h0M252.5 205h0M255 205h0M257.5 205h0M260 205h0M262.5 205h0M255 207.5h0M257.5 207.5h0M260 207.5h0M262.5 207.5h0M255 210h0M257.5 210h0M260 210h0M262.5 210h0M255 212.5h0M257.5 212.5h0M260 212.5h0M262.5 212.5h0M255 215h0M262.5 215h0M262.8 217.8h0M265.8 217.3h0M265.8 215.7h0M265.8 214.1h0M265.8 212.5h0M262.9 196.6h0M259.1 166.5h0M258.6 163.3h0M255.6 162.9h0M270 162.5h0M272.5 162.5h0M275 162.5h0M282.5 162.5h0M285 162.5h0M270 165h0M272.5 165h0M275 165h0M285 165h0M270 167.5h0M275 167.5h0M280 167.5h0M277.5 170h0M268.6 160.8h0M268.6 162.4h0M268.6 164h0M268.6 165.6h0M268.6 167.2h0M269.2 168.4h0M287.8 167.9h0M287.8 166.3h0M287.8 164.7h0M287.8 163.1h0M287.8 161.5h0M287 160.7h0M283.6 160.7h0M273.4 160.8h0M270 160.8h0M310 157.5h0M312.5 157.5h0M300 160h0M305 160h0M307.5 160h0M310 160h0M312.5 160h0M305 162.5h0M307.5 162.5h0M312.5 162.5h0M295.1 159.1h0M295.6 160.2h0M298.2 162h0M298.2 163.6h0M298.4 165.1h0M314.9 163.1h0M314.8 161.5h0M314.7 159.9h0M314.6 158.3h0M314.6 156.7h0M314.3 155.3h0M310.9 156h0M307.6 156.6h0M304.3 157.3h0M300.9 157.9h0M297.6 158.6h0M330 165h0M332.5 172.5h0M332.5 175h0M342.5 197.5h0M345 197.5h0M347.5 197.5h0M335 200h0M333.5 198.8h0M345 212.5h0M340 217.5h0M342.5 217.5h0M335 220h0M162.5 222.5h0M262.5 222.5h0M265 222.5h0M325 222.5h0M327.5 222.5h0M162.5 225h0M245 225h0M247.5 225h0M262.5 225h0M265 225h0M267.5 225h0M295 225h0M305 225h0M325 225h0M327.5 225h0M330 225h0M332.5 225h0M165 227.5h0M172.5 227.5h0M262.5 227.5h0M265 227.5h0M267.5 227.5h0M322.5 227.5h0M325 227.5h0M172.5 230h0M245 230h0M262.5 230h0M265 230h0M267.5 230h0M245 232.5h0M247.5 232.5h0M255 232.5h0M257.5 232.5h0M260 232.5h0M262.5 232.5h0M265 232.5h0M267.5 232.5h0M270 232.5h0M175 235h0M242.5 235h0M247.5 235h0M252.5 235h0M255 235h0M257.5 235h0M260 235h0M262.5 235h0M265 235h0M267.5 235h0M270 235h0M175 237.5h0M250 237.5h0M252.5 237.5h0M177.5 240h0M177.5 242.5h0M177.5 245h0M240 245h0M177.5 247.5h0M237.5 250h0M215 252.5h0M235 252.5h0M205 255h0M222.5 255h0M230 255h0M182.5 257.5h0M202.5 257.5h0M212.5 257.5h0M177.5 260h0M187.5 260h0M195 260h0M207.5 260h0M177.5 262.5h0M180 262.5h0M190 262.5h0M200 263.2h0M210.2 263.2h0M264.7 219.8h0M251.1 219.8h0M166.1 220.2h0"/><path stroke="#f39778" d="M105 177.5h0M105 180h0M107.5 180h0M110 180h0M102.5 182.5h0M105 182.5h0M107.5 182.5h0M102.5 185h0M105 185h0M107.5 185h0M115 185h0M117.5 185h0M102.5 187.5h0M105 187.5h0M107.5 187.5h0M117.5 187.5h0M102.5 190h0M105 190h0M117.5 190h0M115 192.5h0M117.5 192.5h0M117.5 195h0M100.9 182.7h0M100.5 184.3h0M100 185.8h0M99.6 187.4h0M117.3 201.7h0M117.6 200.2h0M118 198.6h0M118.3 197h0M118.6 195.5h0M118.9 193.9h0M119.1 192.3h0M119.4 190.8h0M119.7 189.2h0M120 187.6h0M120.3 186h0M135 162.5h0M137.5 162.5h0M140 162.5h0M142.5 162.5h0M132.5 165h0M135 165h0M137.5 165h0M140 165h0M142.5 165h0M132.5 167.5h0M135 167.5h0M137.5 167.5h0M140 167.5h0M142.5 167.5h0M132.5 170h0M135 170h0M137.5 170h0M142.5 170h0M135 172.5h0M142.5 172.5h0M145 182.5h0M145 185h0M145 187.5h0M145 190h0M145 192.5h0M147.5 192.5h0M131.9 160h0M131.7 161.5h0M131.5 163.1h0M131.3 164.7h0M131.1 166.3h0M130.9 167.9h0M148.5 193.9h0M148.6 192.3h0M148.8 190.7h0M142.9 161h0M139.5 160.7h0M136.1 160.4h0M132.7 160h0M377.5 185h0M392.5 185h0M395 185h0M397.5 185h0M400 185h0M372.5 187.5h0M375 187.5h0M377.5 187.5h0M387.5 187.5h0M390 187.5h0M392.5 187.5h0M395 187.5h0M397.5 187.5h0M400 187.5h0M402.5 187.5h0M372.5 190h0M375 190h0M377.5 190h0M387.5 190h0M397.5 190h0M400 190h0M402.5 190h0M405 190h0M372.5 192.5h0M375 192.5h0M377.5 192.5h0M380 192.5h0M385 192.5h0M400 192.5h0M402.5 192.5h0M405 192.5h0M375 195h0M377.5 195h0M380 195h0M382.5 195h0M385 195h0M402.5 195h0M405 195h0M407.5 195h0M367.5 197.5h0M375 197.5h0M377.5 197.5h0M380 197.5h0M405 197.5h0M407.5 197.5h0M405 200h0M407.5 200h0M405 202.5h0M407.5 202.5h0M407.5 205h0M407.5 207.5h0M407.5 210h0M410 212.5h0M410 215h0M410 217.5h0M410 220h0M410 222.5h0M410 225h0M410 227.5h0M415 227.5h0M417.5 227.5h0M420 227.5h0M422.5 227.5h0M415 230h0M417.5 230h0M420 230h0M422.5 230h0M415 232.5h0M417.5 232.5h0M420 232.5h0M422.5 232.5h0M415 235h0M417.5 235h0M420 235h0M415 237.5h0M415.1 239.2h0M418.2 237.8h0M421.3 236.5h0M375.3 183.6h0"/><path stroke="#e8d6cc" d="M172.5 170h0M175 170h0M170 172.5h0M167.5 190h0M170 190h0M178.9 177.6h0M197.5 172.5h0M197.5 175h0M227.5 172.5h0M228.4 164.4h0M221.6 164.4h0M260 170h0M255 172.5h0M257.5 172.5h0M260 172.5h0M260 175h0M260 177.5h0M252.5 180h0M260 180h0M260 182.5h0M250 185h0M260 185h0M260 187.5h0M257.5 190h0M260 190h0M250 192.5h0M255 192.5h0M257.5 192.5h0M260 192.5h0M250 195h0M252.5 195h0M255 195h0M257.5 195h0M260 195h0M252.5 197.5h0M255 197.5h0M257.5 197.5h0M260 197.5h0M252.5 200h0M255 200h0M255 202.5h0M257.5 215h0M260 215h0M256 217.8h0M259.4 217.8h0M262.2 193.3h0M262.2 191.7h0M262.2 190.1h0M262.2 188.5h0M262.2 186.9h0M262.2 185.3h0M262.2 183.7h0M262.2 182.1h0M262.2 180.5h0M262.2 178.9h0M262.2 177.3h0M262.2 175.7h0M262.2 174.1h0M262.2 172.5h0M262.2 170.9h0M262.2 169.3h0M262.2 167.7h0M282.5 165h0M272.5 167.5h0M282.5 167.5h0M285 167.5h0M275 170h0M282.5 170h0M285 170h0M275 172.5h0M285 172.5h0M272 170h0M272.2 171.6h0M287.8 171.1h0M287.8 169.5h0M302.5 160h0M300 162.5h0M302.5 162.5h0M310 162.5h0M307.5 165h0M312.5 165h0M315 164.7h0M327.5 152.5h0M327.5 155h0M327.5 157.5h0M327.5 160h0M332.5 177.5h0M332.5 180h0M332.5 192.5h0M332.5 195h0M340 197.5h0M342.5 200h0M347.7 206h0M347.5 207.5h0M340 210h0M342.5 210h0M340 212.5h0M342.5 212.5h0M340 215h0M342.5 215h0M337.5 217.5h0M325 220h0M327.5 220h0M165 222.5h0M172.5 222.5h0M250 222.5h0M252.5 222.5h0M255 222.5h0M257.5 222.5h0M260 222.5h0M267.5 222.5h0M330 222.5h0M332.5 222.5h0M165 225h0M172.5 225h0M250 225h0M252.5 225h0M255 225h0M257.5 225h0M260 225h0M275 225h0M297.5 225h0M310 225h0M322.5 225h0M177.5 227.5h0M245 227.5h0M247.5 227.5h0M250 227.5h0M252.5 227.5h0M255 227.5h0M257.5 227.5h0M260 227.5h0M272.5 227.5h0M277.5 227.5h0M302.5 227.5h0M320 227.5h0M175 230h0M177.5 230h0M180 230h0M247.5 230h0M250 230h0M252.5 230h0M255 230h0M257.5 230h0M260 230h0M270 230h0M280 230h0M282.5 230h0M292.5 230h0M312.5 230h0M317.5 230h0M175 232.5h0M177.5 232.5h0M180 232.5h0M242.5 232.5h0M250 232.5h0M252.5 232.5h0M285 232.5h0M287.5 232.5h0M290 232.5h0M177.5 235h0M180 235h0M250 235h0M177.5 237.5h0M180 237.5h0M240 240h0M240 242.5h0M237.5 247.5h0M177.5 250h0M235 250h0M177.5 252.5h0M205 252.5h0M217.5 252.5h0M232.5 252.5h0M177.5 255h0M185 255h0M202.5 255h0M212.5 255h0M225 255h0M177.5 257.5h0M207.5 257.5h0M180 260h0M192.5 260h0M197.5 260h0M200 260h0M348.1 204h0M261.3 219.8h0M257.9 219.8h0M254.5 219.8h0M172.9 220.2h0"/><path stroke="#f29274" d="M110 182.5h0M112.5 182.5h0M110 185h0M112.5 185h0M110 187.5h0M112.5 187.5h0M115 187.5h0M100 190h0M107.5 190h0M110 190h0M112.5 190h0M115 190h0M102.5 192.5h0M105 192.5h0M112.5 192.5h0M115 195h0M115 197.5h0M115 200h0M99.2 188.9h0M98.7 190.4h0M115.8 206.1h0M116.9 203.3h0M145 177.5h0M145 180h0M147.5 180h0M147.5 182.5h0M147.5 185h0M147.5 187.5h0M147.5 190h0M148.9 189.1h0M149 187.5h0M149.1 185.9h0M149.2 184.3h0M149.3 182.7h0M149.4 181.1h0M395 180h0M397.5 180h0M387.5 182.5h0M390 182.5h0M392.5 182.5h0M395 182.5h0M397.5 182.5h0M400 182.5h0M402.5 182.5h0M387.5 185h0M390 185h0M402.5 185h0M405 185h0M380 187.5h0M385 187.5h0M405 187.5h0M415 187.5h0M417.5 187.5h0M380 190h0M382.5 190h0M385 190h0M407.5 190h0M412.5 190h0M415 190h0M417.5 190h0M420 190h0M370 192.5h0M382.5 192.5h0M407.5 192.5h0M410 192.5h0M412.5 192.5h0M415 192.5h0M417.5 192.5h0M420 192.5h0M410 195h0M412.5 195h0M415 195h0M417.5 195h0M420 195h0M422.5 195h0M410 197.5h0M412.5 197.5h0M415 197.5h0M417.5 197.5h0M420 197.5h0M422.5 197.5h0M410 200h0M412.5 200h0M415 200h0M417.5 200h0M420 200h0M422.5 200h0M425 200h0M410 202.5h0M412.5 202.5h0M415 202.5h0M417.5 202.5h0M420 202.5h0M422.5 202.5h0M425 202.5h0M410 205h0M412.5 205h0M415 205h0M417.5 205h0M420 205h0M422.5 205h0M425 205h0M410 207.5h0M412.5 207.5h0M415 207.5h0M417.5 207.5h0M420 207.5h0M422.5 207.5h0M425 207.5h0M427.5 207.5h0M410 210h0M412.5 210h0M415 210h0M417.5 210h0M420 210h0M422.5 210h0M425 210h0M427.5 210h0M412.5 212.5h0M415 212.5h0M417.5 212.5h0M420 212.5h0M422.5 212.5h0M425 212.5h0M427.5 212.5h0M412.5 215h0M415 215h0M417.5 215h0M420 215h0M422.5 215h0M425 215h0M427.5 215h0M412.5 217.5h0M415 217.5h0M417.5 217.5h0M420 217.5h0M422.5 217.5h0M425 217.5h0M427.5 217.5h0M412.5 220h0M415 220h0M417.5 220h0M420 220h0M422.5 220h0M425 220h0M427.5 220h0M412.5 222.5h0M415 222.5h0M417.5 222.5h0M420 222.5h0M422.5 222.5h0M425 222.5h0M427.5 222.5h0M435 222.5h0M412.5 225h0M415 225h0M417.5 225h0M420 225h0M422.5 225h0M425 225h0M427.5 225h0M430 225h0M432.5 225h0M435 225h0M412.5 227.5h0M425 227.5h0M427.5 227.5h0M430 227.5h0M432.5 227.5h0M435 227.5h0M425 230h0M427.5 230h0M430 230h0M432.5 230h0M425 232.5h0M427.5 232.5h0M424.4 235.1h0M427.6 233.7h0M430.7 232.5h0M433.8 231.2h0M437 229.9h0M377.9 181.4h0M372.7 185.8h0M364.9 197.9h0"/><path stroke="#e5d8d1" d="M172.5 172.5h0M175 172.5h0M170 175h0M175 175h0M177.5 177.5h0M170 185h0M167.5 187.5h0M170 187.5h0M172.5 190h0M175.9 217.8h0M176.6 191h0M197.5 167.5h0M197.5 170h0M195 172.5h0M217.5 167.5h0M220 167.5h0M230 167.5h0M217.5 170h0M220 170h0M230 170h0M217.5 172.5h0M222.5 172.5h0M230 172.5h0M225 175h0M215.9 164.4h0M215.9 166h0M215.9 167.6h0M215.9 169.2h0M215.9 170.8h0M215.9 172.4h0M215.9 174h0M231.8 172.5h0M231.8 170.9h0M231.8 169.3h0M231.8 167.7h0M231.8 166.1h0M231.8 164.5h0M218.2 164.4h0M252.5 182.5h0M252.5 185h0M250 187.5h0M252.5 187.5h0M255 187.5h0M257.5 187.5h0M250 190h0M252.5 190h0M255 190h0M252.5 192.5h0M280 170h0M277.5 172.5h0M282.5 172.5h0M275 175h0M285 175h0M272.2 173.2h0M287.8 172.7h0M305 165h0M310 165h0M315.1 166.3h0M327.5 162.5h0M327.5 165h0M330 167.5h0M332.5 182.5h0M332.5 185h0M332.5 187.5h0M332.5 190h0M337.5 200h0M345 200h0M347.5 200h0M342.5 202.5h0M347.5 202.5h0M342.5 205h0M347.5 205h0M324.2 151.6h0M324.2 153.2h0M324.2 154.8h0M324.2 156.4h0M324.2 158h0M324.2 159.6h0M324.2 161.2h0M324.2 162.8h0M330.5 182.6h0M330.6 184.2h0M330.6 185.8h0M330.6 187.4h0M330.6 189h0M330.6 190.6h0M330.6 192.2h0M330.6 193.8h0M333.6 200.4h0M341.1 207.5h0M324.7 151.5h0M342.5 207.5h0M345 210h0M327.5 215h0M330 215h0M337.5 215h0M325 217.5h0M327.5 217.5h0M330 217.5h0M335 217.5h0M330 220h0M332.5 220h0M177.5 222.5h0M242.5 222.5h0M305 222.5h0M307.5 222.5h0M322.5 222.5h0M177.5 225h0M242.5 225h0M175 227.5h0M180 227.5h0M242.5 227.5h0M270 227.5h0M300 227.5h0M242.5 230h0M315 230h0M240 232.5h0M240 235h0M240 237.5h0M180 240h0M180 242.5h0M237.5 242.5h0M180 245h0M235 245h0M237.5 245h0M180 247.5h0M207.5 247.5h0M210 247.5h0M212.5 247.5h0M235 247.5h0M180 250h0M182.5 250h0M205 250h0M207.5 250h0M210 250h0M212.5 250h0M215 250h0M232.5 250h0M180 252.5h0M182.5 252.5h0M185 252.5h0M202.5 252.5h0M207.5 252.5h0M210 252.5h0M212.5 252.5h0M220 252.5h0M222.5 252.5h0M230 252.5h0M180 255h0M182.5 255h0M187.5 255h0M200 255h0M207.5 255h0M210 255h0M227.5 255h0M180 257.5h0M187.5 257.5h0M190 257.5h0M192.5 257.5h0M195 257.5h0M197.5 257.5h0M200 257.5h0M210 257.5h0M190 260h0M210 260h0M268.1 219.7h0M240.9 219.9h0"/><path stroke="#f18d6f" d="M100 192.5h0M110 192.5h0M100 195h0M102.5 195h0M105 195h0M112.5 195h0M100 197.5h0M102.5 197.5h0M97.5 200h0M100 200h0M102.5 200h0M100 202.5h0M102.5 202.5h0M115 202.5h0M115 205h0M98.3 192h0M97.9 193.5h0M97.4 195.1h0M97 196.6h0M96.6 198.1h0M96.2 199.7h0M96 201.3h0M96 202.8h0M99 204.4h0M102.2 205.4h0M145 175h0M402.5 162.5h0M400 165h0M402.5 165h0M405 165h0M397.5 167.5h0M400 167.5h0M402.5 167.5h0M405 167.5h0M407.5 167.5h0M410 167.5h0M412.5 167.5h0M415 167.5h0M395 170h0M397.5 170h0M400 170h0M402.5 170h0M405 170h0M407.5 170h0M410 170h0M412.5 170h0M415 170h0M390 172.5h0M392.5 172.5h0M395 172.5h0M397.5 172.5h0M400 172.5h0M402.5 172.5h0M405 172.5h0M407.5 172.5h0M410 172.5h0M412.5 172.5h0M415 172.5h0M417.5 172.5h0M387.5 175h0M390 175h0M392.5 175h0M395 175h0M397.5 175h0M400 175h0M402.5 175h0M405 175h0M407.5 175h0M410 175h0M412.5 175h0M415 175h0M417.5 175h0M385 177.5h0M387.5 177.5h0M390 177.5h0M392.5 177.5h0M395 177.5h0M397.5 177.5h0M400 177.5h0M402.5 177.5h0M405 177.5h0M407.5 177.5h0M410 177.5h0M412.5 177.5h0M415 177.5h0M417.5 177.5h0M382.5 180h0M385 180h0M387.5 180h0M390 180h0M392.5 180h0M400 180h0M402.5 180h0M405 180h0M407.5 180h0M410 180h0M412.5 180h0M415 180h0M417.5 180h0M420 180h0M380 182.5h0M382.5 182.5h0M385 182.5h0M405 182.5h0M407.5 182.5h0M410 182.5h0M412.5 182.5h0M415 182.5h0M417.5 182.5h0M420 182.5h0M430 182.5h0M432.5 182.5h0M380 185h0M382.5 185h0M385 185h0M407.5 185h0M410 185h0M412.5 185h0M415 185h0M417.5 185h0M420 185h0M422.5 185h0M425 185h0M427.5 185h0M430 185h0M432.5 185h0M382.5 187.5h0M407.5 187.5h0M410 187.5h0M412.5 187.5h0M420 187.5h0M422.5 187.5h0M425 187.5h0M427.5 187.5h0M430 187.5h0M432.5 187.5h0M435 187.5h0M410 190h0M422.5 190h0M425 190h0M427.5 190h0M430 190h0M432.5 190h0M435 190h0M422.5 192.5h0M425 192.5h0M427.5 192.5h0M430 192.5h0M432.5 192.5h0M435 192.5h0M437.5 192.5h0M440 192.5h0M445 192.5h0M425 195h0M427.5 195h0M430 195h0M432.5 195h0M435 195h0M437.5 195h0M440 195h0M442.5 195h0M445 195h0M425 197.5h0M427.5 197.5h0M430 197.5h0M432.5 197.5h0M435 197.5h0M437.5 197.5h0M440 197.5h0M442.5 197.5h0M445 197.5h0M427.5 200h0M430 200h0M432.5 200h0M435 200h0M437.5 200h0M440 200h0M442.5 200h0M445 200h0M427.5 202.5h0M430 202.5h0M432.5 202.5h0M435 202.5h0M437.5 202.5h0M440 202.5h0M442.5 202.5h0M445 202.5h0M427.5 205h0M430 205h0M432.5 205h0M435 205h0M437.5 205h0M440 205h0M442.5 205h0M445 205h0M430 207.5h0M432.5 207.5h0M435 207.5h0M437.5 207.5h0M440 207.5h0M442.5 207.5h0M445 207.5h0M430 210h0M432.5 210h0M435 210h0M437.5 210h0M440 210h0M442.5 210h0M445 210h0M430 212.5h0M432.5 212.5h0M435 212.5h0M437.5 212.5h0M440 212.5h0M442.5 212.5h0M445 212.5h0M430 215h0M432.5 215h0M435 215h0M437.5 215h0M440 215h0M442.5 215h0M445 215h0M430 217.5h0M432.5 217.5h0M435 217.5h0M437.5 217.5h0M440 217.5h0M442.5 217.5h0M445 217.5h0M447.5 217.5h0M430 220h0M432.5 220h0M435 220h0M437.5 220h0M440 220h0M442.5 220h0M445 220h0M447.5 220h0M430 222.5h0M432.5 222.5h0M437.5 222.5h0M440 222.5h0M442.5 222.5h0M445 222.5h0M447.5 222.5h0M437.5 225h0M440 225h0M442.5 225h0M445 225h0M437.5 227.5h0M440 227.5h0M440.1 228.6h0M443.3 227.3h0M446.4 226h0M402.9 158.3h0M400.5 160.7h0M398.1 163.1h0M395.6 165.5h0M393.2 167.9h0M390.8 170.3h0M388.2 172.5h0M385.6 174.7h0M383.1 176.9h0M380.5 179.2h0"/><path stroke="#e2dad5" d="M172.5 175h0M170 177.5h0M175 177.5h0M170 182.5h0M172.5 187.5h0M178.9 179.2h0M195 167.5h0M200 167.5h0M195 170h0M200 170h0M200 172.5h0M195 175h0M200 175h0M197.5 177.5h0M201.8 164.4h0M198.4 164.4h0M220 172.5h0M217.5 175h0M227.5 175h0M215.9 175.6h0M231.8 174.1h0M255 175h0M257.5 175h0M255 177.5h0M257.5 177.5h0M255 182.5h0M257.5 182.5h0M255 185h0M257.5 185h0M302.5 165h0M312.5 167.5h0M330 170h0M330 172.5h0M330 175h0M330 177.5h0M330 180h0M340 200h0M335 202.5h0M345 202.5h0M345 205h0M324.2 164.4h0M326.9 166.3h0M330.6 195.4h0M331 196.8h0M333.6 202h0M344.4 206.8h0M340 207.5h0M345 207.5h0M327.5 212.5h0M330 212.5h0M337.5 212.5h0M325 215h0M335 215h0M332.5 217.5h0M322.5 220h0M175 222.5h0M240 222.5h0M270 222.5h0M272.5 222.5h0M275 222.5h0M295 222.5h0M175 225h0M180 225h0M240 225h0M270 225h0M272.5 225h0M320 225h0M237.5 227.5h0M240 227.5h0M292.5 227.5h0M312.5 227.5h0M317.5 227.5h0M237.5 230h0M240 230h0M285 230h0M237.5 232.5h0M237.5 235h0M235 237.5h0M237.5 237.5h0M232.5 240h0M235 240h0M237.5 240h0M182.5 242.5h0M210 242.5h0M212.5 242.5h0M232.5 242.5h0M235 242.5h0M182.5 245h0M200 245h0M207.5 245h0M210 245h0M212.5 245h0M232.5 245h0M182.5 247.5h0M197.5 247.5h0M200 247.5h0M202.5 247.5h0M205 247.5h0M215 247.5h0M230 247.5h0M232.5 247.5h0M185 250h0M187.5 250h0M190 250h0M197.5 250h0M200 250h0M202.5 250h0M217.5 250h0M220 250h0M222.5 250h0M230 250h0M187.5 252.5h0M190 252.5h0M192.5 252.5h0M197.5 252.5h0M200 252.5h0M225 252.5h0M227.5 252.5h0M190 255h0M192.5 255h0M195 255h0M197.5 255h0M344.8 204.9h0M341.5 205.7h0M271.5 219.4h0M176.3 220.1h0"/><path stroke="#ee8669" d="M107.5 192.5h0M105 197.5h0M112.5 197.5h0M105 200h0M145 162.5h0M145 165h0M145 167.5h0M145 170h0M145 172.5h0M147.5 177.5h0M149.5 179.5h0M422.5 140h0M420 142.5h0M422.5 142.5h0M417.5 145h0M420 145h0M422.5 145h0M425 145h0M415 147.5h0M417.5 147.5h0M420 147.5h0M422.5 147.5h0M425 147.5h0M415 150h0M417.5 150h0M420 150h0M422.5 150h0M425 150h0M412.5 152.5h0M415 152.5h0M417.5 152.5h0M420 152.5h0M422.5 152.5h0M425 152.5h0M427.5 152.5h0M410 155h0M412.5 155h0M415 155h0M417.5 155h0M420 155h0M422.5 155h0M425 155h0M427.5 155h0M430 155h0M407.5 157.5h0M410 157.5h0M412.5 157.5h0M415 157.5h0M417.5 157.5h0M420 157.5h0M422.5 157.5h0M425 157.5h0M427.5 157.5h0M430 157.5h0M432.5 157.5h0M405 160h0M407.5 160h0M410 160h0M412.5 160h0M415 160h0M417.5 160h0M420 160h0M422.5 160h0M425 160h0M427.5 160h0M430 160h0M432.5 160h0M435 160h0M437.5 160h0M440 160h0M442.5 160h0M445 160h0M405 162.5h0M407.5 162.5h0M410 162.5h0M412.5 162.5h0M415 162.5h0M417.5 162.5h0M420 162.5h0M422.5 162.5h0M425 162.5h0M427.5 162.5h0M430 162.5h0M432.5 162.5h0M435 162.5h0M437.5 162.5h0M440 162.5h0M442.5 162.5h0M445 162.5h0M407.5 165h0M410 165h0M412.5 165h0M415 165h0M417.5 165h0M420 165h0M422.5 165h0M425 165h0M427.5 165h0M430 165h0M432.5 165h0M435 165h0M437.5 165h0M440 165h0M442.5 165h0M445 165h0M417.5 167.5h0M420 167.5h0M422.5 167.5h0M425 167.5h0M427.5 167.5h0M430 167.5h0M432.5 167.5h0M435 167.5h0M437.5 167.5h0M440 167.5h0M442.5 167.5h0M445 167.5h0M417.5 170h0M420 170h0M422.5 170h0M425 170h0M427.5 170h0M430 170h0M432.5 170h0M435 170h0M437.5 170h0M440 170h0M442.5 170h0M445 170h0M420 172.5h0M422.5 172.5h0M425 172.5h0M427.5 172.5h0M430 172.5h0M432.5 172.5h0M435 172.5h0M437.5 172.5h0M440 172.5h0M442.5 172.5h0M445 172.5h0M420 175h0M422.5 175h0M425 175h0M427.5 175h0M430 175h0M432.5 175h0M435 175h0M437.5 175h0M440 175h0M442.5 175h0M445 175h0M420 177.5h0M422.5 177.5h0M425 177.5h0M427.5 177.5h0M430 177.5h0M432.5 177.5h0M435 177.5h0M437.5 177.5h0M440 177.5h0M442.5 177.5h0M445 177.5h0M422.5 180h0M425 180h0M427.5 180h0M430 180h0M432.5 180h0M435 180h0M437.5 180h0M440 180h0M442.5 180h0M445 180h0M422.5 182.5h0M425 182.5h0M427.5 182.5h0M435 182.5h0M437.5 182.5h0M440 182.5h0M442.5 182.5h0M445 182.5h0M435 185h0M437.5 185h0M440 185h0M442.5 185h0M445 185h0M437.5 187.5h0M440 187.5h0M442.5 187.5h0M445 187.5h0M370 190h0M437.5 190h0M440 190h0M442.5 190h0M445 190h0M442.5 192.5h0M367.5 195h0M447.5 205h0M447.5 207.5h0M450 207.5h0M452.5 207.5h0M455 207.5h0M447.5 210h0M450 210h0M452.5 210h0M455 210h0M447.5 212.5h0M450 212.5h0M452.5 212.5h0M455 212.5h0M447.5 215h0M450 215h0M452.5 215h0M455 215h0M450 217.5h0M452.5 217.5h0M455 217.5h0M450 220h0M452.5 220h0M455 220h0M450 222.5h0M449.6 224.7h0M452.7 223.5h0M455.9 222.2h0M457.8 220.1h0M457.8 218.5h0M457.8 216.9h0M457.8 215.3h0M457.8 213.7h0M457.8 212.1h0M457.8 210.5h0M421.7 138.7h0M419.4 141.2h0M417.1 143.7h0M414.7 146.2h0M412.4 148.7h0M410.1 151.1h0M407.7 153.5h0M405.3 155.9h0M365.3 196.3h0"/><path stroke="#dedcdb" d="M170 180h0M175 180h0M177.5 180h0M175 190h0M178.9 182.4h0M178.9 180.8h0M202.5 167.5h0M202.5 170h0M200 177.5h0M195 164.4h0M230 175h0M215.9 177.2h0M231.8 175.7h0M255 180h0M257.5 180h0M277.5 175h0M275 177.5h0M285 177.5h0M272.2 174.8h0M287.8 174.3h0M307.5 167.5h0M310 167.5h0M301.3 166.8h0M315.7 169.5h0M327.6 169.5h0M327.6 171.1h0M327.6 172.7h0M327.6 174.3h0M327.6 175.9h0M327.6 177.5h0M327.6 179.1h0M327.7 180.7h0M327.5 210h0M325 212.5h0M335 212.5h0M332.5 215h0M322.5 217.5h0M305 220h0M315 220h0M180 222.5h0M210 222.5h0M310 222.5h0M312.5 222.5h0M315 222.5h0M320 222.5h0M210 225h0M237.5 225h0M277.5 225h0M302.5 225h0M312.5 225h0M315 225h0M317.5 225h0M210 227.5h0M280 227.5h0M282.5 227.5h0M315 227.5h0M210 230h0M182.5 235h0M182.5 237.5h0M185 237.5h0M212.5 237.5h0M215 237.5h0M217.5 237.5h0M182.5 240h0M185 240h0M210 240h0M212.5 240h0M215 240h0M217.5 240h0M220 240h0M185 242.5h0M207.5 242.5h0M215 242.5h0M217.5 242.5h0M220 242.5h0M225 242.5h0M227.5 242.5h0M230 242.5h0M185 245h0M187.5 245h0M190 245h0M192.5 245h0M195 245h0M197.5 245h0M202.5 245h0M205 245h0M215 245h0M217.5 245h0M220 245h0M222.5 245h0M225 245h0M227.5 245h0M230 245h0M185 247.5h0M187.5 247.5h0M190 247.5h0M192.5 247.5h0M195 247.5h0M217.5 247.5h0M220 247.5h0M222.5 247.5h0M225 247.5h0M227.5 247.5h0M192.5 250h0M195 250h0M225 250h0M227.5 250h0M195 252.5h0M274.9 219.1h0M179.7 220.1h0"/><path stroke="#ec8165" d="M107.5 195h0M110 195h0M112.5 200h0M105 202.5h0M112.5 202.5h0M105.6 205.6h0M112.4 205.9h0M432.5 130h0M430 132.5h0M432.5 132.5h0M427.5 135h0M430 135h0M432.5 135h0M442.5 135h0M425 137.5h0M427.5 137.5h0M430 137.5h0M432.5 137.5h0M435 137.5h0M437.5 137.5h0M440 137.5h0M442.5 137.5h0M445 137.5h0M425 140h0M427.5 140h0M430 140h0M432.5 140h0M435 140h0M437.5 140h0M440 140h0M442.5 140h0M445 140h0M425 142.5h0M427.5 142.5h0M430 142.5h0M432.5 142.5h0M435 142.5h0M437.5 142.5h0M440 142.5h0M442.5 142.5h0M445 142.5h0M427.5 145h0M430 145h0M432.5 145h0M435 145h0M437.5 145h0M440 145h0M442.5 145h0M445 145h0M427.5 147.5h0M430 147.5h0M432.5 147.5h0M435 147.5h0M437.5 147.5h0M440 147.5h0M442.5 147.5h0M445 147.5h0M427.5 150h0M430 150h0M432.5 150h0M435 150h0M437.5 150h0M440 150h0M442.5 150h0M445 150h0M430 152.5h0M432.5 152.5h0M435 152.5h0M437.5 152.5h0M440 152.5h0M442.5 152.5h0M445 152.5h0M432.5 155h0M435 155h0M437.5 155h0M440 155h0M442.5 155h0M445 155h0M435 157.5h0M437.5 157.5h0M440 157.5h0M442.5 157.5h0M445 157.5h0M447.5 180h0M450 180h0M452.5 180h0M455 180h0M447.5 182.5h0M450 182.5h0M452.5 182.5h0M455 182.5h0M447.5 185h0M450 185h0M452.5 185h0M455 185h0M447.5 187.5h0M450 187.5h0M452.5 187.5h0M455 187.5h0M447.5 190h0M450 190h0M452.5 190h0M455 190h0M447.5 192.5h0M450 192.5h0M452.5 192.5h0M455 192.5h0M447.5 195h0M450 195h0M452.5 195h0M455 195h0M447.5 197.5h0M450 197.5h0M452.5 197.5h0M455 197.5h0M447.5 200h0M450 200h0M452.5 200h0M455 200h0M447.5 202.5h0M450 202.5h0M452.5 202.5h0M455 202.5h0M450 205h0M452.5 205h0M455 205h0M457.8 208.9h0M457.8 207.3h0M457.8 205.7h0M457.8 204.1h0M457.8 202.5h0M457.8 200.9h0M457.8 199.3h0M457.8 197.7h0M457.8 196.1h0M457.8 194.5h0M457.8 192.9h0M457.8 191.3h0M457.8 189.7h0M457.8 188.1h0M457.8 186.5h0M457.8 184.9h0M457.8 183.3h0M430.9 128.7h0M428.6 131.2h0M426.3 133.7h0M424 136.2h0M370.2 188h0M365.8 194.8h0"/><path stroke="#dbdcde" d="M172.5 177.5h0M172.5 182.5h0M175 182.5h0M177.5 182.5h0M172.5 185h0M175 187.5h0M176.6 189.4h0M176.6 187.8h0M178.9 184h0M192.5 167.5h0M192.5 170h0M202.5 172.5h0M189.3 164.4h0M189.3 166h0M189.3 167.6h0M189.3 169.2h0M205.1 174.2h0M205.1 172.6h0M205.1 171h0M205.1 169.4h0M205.1 167.8h0M205.1 166.2h0M205.1 164.6h0M191.6 164.4h0M222.5 175h0M217.5 177.5h0M225 177.5h0M227.5 177.5h0M217.5 207.5h0M217.5 210h0M220 210h0M217.5 212.5h0M220 212.5h0M217.5 215h0M215.9 178.8h0M215.9 207.7h0M215.9 209.2h0M215.9 210.9h0M215.9 212.5h0M215.9 214.1h0M215.9 215.7h0M235.3 183.7h0M280 172.5h0M282.5 175h0M272.2 176.4h0M301.6 168.3h0M318.1 171.5h0M337.5 202.5h0M340 202.5h0M335 205h0M340 205h0M333.6 203.6h0M335 210h0M337.5 210h0M332.5 212.5h0M322.5 215h0M305 217.5h0M315 217.5h0M295 220h0M307.5 220h0M312.5 220h0M317.5 220h0M320 220h0M207.5 222.5h0M212.5 222.5h0M237.5 222.5h0M297.5 222.5h0M302.5 222.5h0M317.5 222.5h0M207.5 225h0M212.5 225h0M292.5 225h0M300 225h0M207.5 227.5h0M212.5 227.5h0M285 227.5h0M207.5 230h0M212.5 230h0M287.5 230h0M290 230h0M182.5 232.5h0M207.5 232.5h0M210 232.5h0M212.5 232.5h0M235 232.5h0M185 235h0M207.5 235h0M210 235h0M212.5 235h0M215 235h0M232.5 235h0M235 235h0M187.5 237.5h0M207.5 237.5h0M210 237.5h0M232.5 237.5h0M187.5 240h0M205 240h0M207.5 240h0M222.5 240h0M225 240h0M227.5 240h0M230 240h0M187.5 242.5h0M190 242.5h0M192.5 242.5h0M195 242.5h0M197.5 242.5h0M200 242.5h0M202.5 242.5h0M205 242.5h0M222.5 242.5h0M328.2 208.7h0M210.3 220h0"/><path stroke="#ea7b60" d="M107.5 197.5h0M110 197.5h0M107.5 200h0M110 200h0M107.5 202.5h0M110 202.5h0M109 205.7h0M147.5 175h0M149.7 177.9h0M153 167.9h0M153.3 166.5h0M153.3 164.9h0M153.3 163.3h0M153 162h0M146.3 161.3h0M437.5 117.5h0M440 117.5h0M442.5 117.5h0M445 117.5h0M437.5 120h0M440 120h0M442.5 120h0M445 120h0M437.5 122.5h0M440 122.5h0M442.5 122.5h0M445 122.5h0M437.5 125h0M440 125h0M442.5 125h0M445 125h0M435 127.5h0M437.5 127.5h0M440 127.5h0M442.5 127.5h0M445 127.5h0M435 130h0M437.5 130h0M440 130h0M442.5 130h0M445 130h0M435 132.5h0M437.5 132.5h0M440 132.5h0M442.5 132.5h0M445 132.5h0M435 135h0M437.5 135h0M440 135h0M445 135h0M447.5 172.5h0M450 172.5h0M452.5 172.5h0M447.5 175h0M450 175h0M452.5 175h0M455 175h0M447.5 177.5h0M450 177.5h0M452.5 177.5h0M455 177.5h0M457.8 181.7h0M457.8 180.1h0M457.8 178.5h0M457.8 176.9h0M457.8 175.3h0M457.8 173.7h0M436.2 115.9h0M436.2 117.5h0M436.2 119.1h0M436.2 120.7h0M436.2 122.3h0M435.5 123.7h0M433.2 126.2h0M366.2 193.3h0"/><path stroke="#d7dce3" d="M172.5 180h0M175 185h0M176.9 186.3h0M192.5 172.5h0M202.5 175h0M189.3 170.8h0M205.1 175.8h0M220 175h0M230 177.5h0M217.5 205h0M220 207.5h0M220 215h0M215.9 180.4h0M215.9 204.4h0M215.9 206.1h0M215.9 217.2h0M235.3 185.3h0M231.8 177.3h0M277.5 177.5h0M282.5 177.5h0M275 180h0M272.2 178h0M287.8 175.9h0M305 167.5h0M307.5 170h0M310 170h0M312.5 170h0M301.6 169.9h0M301.6 171.5h0M301.6 173.1h0M301.6 174.7h0M316.1 209.5h0M318.1 174.7h0M318.1 173.1h0M337.5 205h0M335 207.5h0M333.6 205.2h0M334.4 209h0M337.7 208.3h0M330 210h0M317.5 212.5h0M320 212.5h0M305 215h0M312.5 215h0M315 215h0M317.5 215h0M320 215h0M302.5 217.5h0M307.5 217.5h0M312.5 217.5h0M317.5 217.5h0M320 217.5h0M297.5 220h0M302.5 220h0M310 220h0M277.5 222.5h0M282.5 222.5h0M285 222.5h0M292.5 222.5h0M300 222.5h0M280 225h0M282.5 225h0M285 225h0M215 227.5h0M232.5 227.5h0M287.5 227.5h0M290 227.5h0M182.5 230h0M215 230h0M232.5 230h0M235 230h0M215 232.5h0M217.5 232.5h0M232.5 232.5h0M200 235h0M202.5 235h0M217.5 235h0M200 237.5h0M202.5 237.5h0M205 237.5h0M220 237.5h0M222.5 237.5h0M230 237.5h0M197.5 240h0M200 240h0M202.5 240h0M338.2 206.6h0M334.9 207.4h0M318.3 210.9h0M315 211.6h0M305 213.9h0M237.5 219.9h0M213.7 220h0"/><path stroke="#e7745b" d="M147.5 162.5h0M147.5 165h0M150 165h0M147.5 167.5h0M150 167.5h0M147.5 170h0M147.5 172.5h0M149.8 176.3h0M149.6 161.7h0M437.5 107.5h0M437.5 110h0M440 110h0M437.5 112.5h0M440 112.5h0M442.5 112.5h0M445 112.5h0M437.5 115h0M440 115h0M442.5 115h0M445 115h0M447.5 147.5h0M450 147.5h0M452.5 147.5h0M455 147.5h0M447.5 150h0M450 150h0M452.5 150h0M455 150h0M447.5 152.5h0M450 152.5h0M452.5 152.5h0M455 152.5h0M447.5 155h0M450 155h0M452.5 155h0M455 155h0M447.5 157.5h0M450 157.5h0M452.5 157.5h0M455 157.5h0M447.5 160h0M450 160h0M452.5 160h0M455 160h0M447.5 162.5h0M450 162.5h0M452.5 162.5h0M455 162.5h0M447.5 165h0M450 165h0M452.5 165h0M455 165h0M447.5 167.5h0M450 167.5h0M452.5 167.5h0M455 167.5h0M447.5 170h0M450 170h0M452.5 170h0M455 170h0M455 172.5h0M457.8 172.1h0M457.8 170.5h0M457.8 168.9h0M457.8 167.3h0M457.8 165.7h0M457.8 164.1h0M457.8 162.5h0M457.8 160.9h0M457.8 159.3h0M457.8 157.7h0M457.8 156.1h0M457.8 154.5h0M457.8 152.9h0M457.8 151.3h0M457.8 149.7h0M457.8 148.1h0M436.2 107.9h0M436.2 109.5h0M436.2 111.1h0M436.2 112.7h0M436.2 114.3h0M367.6 190.2h0"/><path stroke="#d4dbe6" d="M192.5 175h0M195 177.5h0M197.5 180h0M200 180h0M189.3 172.4h0M189.3 174h0M189.3 175.6h0M189.3 177.2h0M189.3 178.8h0M205.1 177.4h0M220 177.5h0M217.5 180h0M225 180h0M227.5 180h0M217.5 182.5h0M220 205h0M215.9 182h0M215.9 183.6h0M215.9 185.2h0M215.9 202.8h0M218.8 217.8h0M235.3 214.1h0M235.3 212.4h0M235.3 210.9h0M235.3 209.2h0M235.3 207.7h0M235.3 206.1h0M235.3 186.9h0M231.8 178.9h0M280 175h0M280 177.5h0M277.5 180h0M280 180h0M282.5 180h0M285 180h0M277.5 182.5h0M280 182.5h0M282.5 182.5h0M285 182.5h0M280 185h0M280 215h0M272.2 179.6h0M272.2 181.2h0M272.2 182.8h0M272.2 184.4h0M272.2 186h0M275.9 216.2h0M276.4 217.1h0M279.7 216.4h0M283.1 215.7h0M289.7 214.3h0M288 177.5h0M305 170h0M305 172.5h0M307.5 172.5h0M310 172.5h0M315 172.5h0M305 175h0M307.5 175h0M305 177.5h0M307.5 177.5h0M317.5 205h0M315 207.5h0M317.5 207.5h0M301.6 176.3h0M301.6 177.9h0M301.6 179.5h0M305.4 209.7h0M305.4 211.3h0M306.2 211.9h0M319.4 208.7h0M318.1 177.9h0M318.1 176.3h0M333.6 206.8h0M333.6 208.4h0M332.5 210h0M322.5 212.5h0M307.5 215h0M310 215h0M290 217.5h0M292.5 217.5h0M295 217.5h0M297.5 217.5h0M300 217.5h0M310 217.5h0M277.5 220h0M280 220h0M282.5 220h0M285 220h0M287.5 220h0M290 220h0M292.5 220h0M300 220h0M215 222.5h0M280 222.5h0M287.5 222.5h0M290 222.5h0M215 225h0M287.5 225h0M290 225h0M182.5 227.5h0M217.5 227.5h0M220 227.5h0M235 227.5h0M217.5 230h0M220 230h0M222.5 230h0M185 232.5h0M205 232.5h0M220 232.5h0M222.5 232.5h0M230 232.5h0M187.5 235h0M205 235h0M220 235h0M222.5 235h0M230 235h0M197.5 237.5h0M225 237.5h0M227.5 237.5h0M190 240h0M192.5 240h0M195 240h0M324.9 209.4h0M311.6 212.4h0M308.3 213.1h0M301.7 214.4h0M298.3 214.7h0M291.6 216h0M288.3 216.6h0M284.9 217.2h0M281.6 217.8h0M278.2 218.4h0M217.1 220h0"/><path stroke="#e46e56" d="M149.9 174.7h0M150 173.2h0M150.1 171.6h0M150.4 170h0M437.5 105h0M440 105h0M445 105h0M440 107.5h0M442.5 107.5h0M445 107.5h0M442.5 110h0M445 110h0M447.5 125h0M450 125h0M452.5 125h0M447.5 127.5h0M450 127.5h0M452.5 127.5h0M455 127.5h0M447.5 130h0M450 130h0M452.5 130h0M455 130h0M447.5 132.5h0M450 132.5h0M452.5 132.5h0M455 132.5h0M447.5 135h0M450 135h0M452.5 135h0M455 135h0M447.5 137.5h0M450 137.5h0M452.5 137.5h0M455 137.5h0M447.5 140h0M450 140h0M452.5 140h0M455 140h0M447.5 142.5h0M450 142.5h0M452.5 142.5h0M455 142.5h0M447.5 145h0M450 145h0M452.5 145h0M455 145h0M457.8 146.5h0M457.8 144.9h0M457.8 143.3h0M457.8 141.7h0M436.2 104.7h0M436.2 106.3h0"/><path stroke="#d1dae9" d="M202.5 177.5h0M189.3 180.4h0M222.5 177.5h0M220 180h0M222.5 180h0M230 180h0M220 182.5h0M222.5 182.5h0M225 182.5h0M227.5 182.5h0M217.5 185h0M220 185h0M222.5 185h0M225 185h0M227.5 185h0M232.5 185h0M217.5 187.5h0M220 187.5h0M222.5 187.5h0M225 187.5h0M232.5 187.5h0M217.5 190h0M220 190h0M222.5 190h0M225 190h0M232.5 190h0M217.5 192.5h0M222.5 192.5h0M225 192.5h0M232.5 192.5h0M225 195h0M225 197.5h0M217.5 200h0M222.5 200h0M225 200h0M217.5 202.5h0M220 202.5h0M222.5 202.5h0M225 202.5h0M232.5 202.5h0M222.5 205h0M225 205h0M227.5 205h0M232.5 205h0M222.5 207.5h0M225 207.5h0M227.5 207.5h0M232.5 207.5h0M222.5 210h0M225 210h0M232.5 210h0M222.5 212.5h0M225 212.5h0M232.5 212.5h0M222.5 215h0M232.5 215h0M215.9 186.8h0M215.9 188.4h0M215.9 190h0M215.9 191.6h0M215.9 193.2h0M215.9 194.8h0M215.9 196.4h0M215.9 198.1h0M215.9 199.7h0M215.9 201.2h0M222.2 217.8h0M232.4 217.8h0M235.3 217.2h0M235.3 215.6h0M235.3 204.5h0M235.3 202.9h0M235.3 201.3h0M235.3 199.7h0M235.3 198.1h0M235.3 196.5h0M235.3 194.9h0M235.3 193.3h0M235.3 191.7h0M235.3 190.1h0M235.3 188.5h0M232.4 182.1h0M287.5 180h0M290 180h0M275 182.5h0M287.5 182.5h0M290 182.5h0M282.5 185h0M285 185h0M287.5 185h0M280 187.5h0M277.5 202.5h0M277.5 205h0M277.5 207.5h0M277.5 210h0M280 210h0M290 210h0M277.5 212.5h0M280 212.5h0M282.5 212.5h0M287.5 212.5h0M290 212.5h0M277.5 215h0M272.2 187.6h0M272.2 195.6h0M275.9 201.8h0M275.9 203.4h0M275.9 205h0M275.9 206.6h0M275.9 208.2h0M275.9 209.8h0M275.9 211.4h0M275.9 213h0M275.9 214.6h0M286.4 215h0M291.8 180.2h0M290.9 179.2h0M312.5 172.5h0M310 175h0M315 175h0M305 180h0M307.5 180h0M315 202.5h0M317.5 202.5h0M315 205h0M307.5 210h0M301.6 181.1h0M301.6 182.7h0M305.4 203.3h0M305.4 204.9h0M305.4 206.5h0M305.4 208.1h0M309.5 211.1h0M312.8 210.3h0M325.1 206.4h0M325.1 204.8h0M325.1 203.2h0M325.1 201.6h0M322.1 188.5h0M322.1 186.9h0M321.5 185.8h0M318.1 181.1h0M318.1 179.5h0M217.5 222.5h0M220 222.5h0M222.5 222.5h0M232.5 222.5h0M235 222.5h0M217.5 225h0M220 225h0M222.5 225h0M232.5 225h0M235 225h0M205 227.5h0M222.5 227.5h0M230 227.5h0M205 230h0M230 230h0M202.5 232.5h0M190 237.5h0M331.6 208.2h0M321.6 210.1h0M294.9 215.4h0M234.1 219.9h0M230.7 219.9h0M220.5 220h0M206.9 220h0"/><path stroke="#ccd9ed" d="M192.5 177.5h0M200 182.5h0M186.8 182.3h0M230 182.5h0M230 185h0M227.5 187.5h0M230 187.5h0M227.5 190h0M230 190h0M220 192.5h0M227.5 192.5h0M230 192.5h0M217.5 195h0M220 195h0M222.5 195h0M227.5 195h0M230 195h0M232.5 195h0M217.5 197.5h0M220 197.5h0M222.5 197.5h0M227.5 197.5h0M230 197.5h0M232.5 197.5h0M220 200h0M227.5 200h0M230 200h0M232.5 200h0M227.5 202.5h0M230 202.5h0M230 205h0M230 207.5h0M227.5 210h0M230 210h0M227.5 212.5h0M230 212.5h0M225 215h0M227.5 215h0M230 215h0M225.7 217.8h0M229.1 217.8h0M275 185h0M277.5 185h0M290 185h0M282.5 187.5h0M285 187.5h0M287.5 187.5h0M280 190h0M277.5 197.5h0M277.5 200h0M280 205h0M290 205h0M280 207.5h0M290 207.5h0M287.5 210h0M285 212.5h0M292.5 212.5h0M272.2 189.2h0M272.2 190.8h0M272.2 192.4h0M272.2 194h0M272.9 196.8h0M275.6 198.6h0M275.9 200.2h0M293 213.7h0M295.4 212.1h0M292.3 201.1h0M291.8 183.4h0M291.8 181.8h0M312.5 175h0M310 177.5h0M312.5 177.5h0M315 177.5h0M310 180h0M312.5 180h0M315 180h0M305 182.5h0M307.5 182.5h0M310 182.5h0M312.5 182.5h0M315 182.5h0M305 185h0M307.5 185h0M310 185h0M312.5 185h0M315 185h0M305 187.5h0M307.5 187.5h0M310 187.5h0M312.5 187.5h0M315 187.5h0M305 190h0M307.5 190h0M310 190h0M312.5 190h0M305 192.5h0M307.5 192.5h0M310 192.5h0M312.5 192.5h0M305 195h0M307.5 195h0M310 195h0M312.5 195h0M305 197.5h0M307.5 197.5h0M310 197.5h0M312.5 197.5h0M315 197.5h0M320 197.5h0M307.5 200h0M310 200h0M312.5 200h0M315 200h0M317.5 200h0M320 200h0M307.5 202.5h0M310 202.5h0M312.5 202.5h0M320 202.5h0M322.5 202.5h0M307.5 205h0M310 205h0M312.5 205h0M320 205h0M322.5 205h0M307.5 207.5h0M310 207.5h0M312.5 207.5h0M301.6 184.3h0M301.6 185.9h0M301.6 187.5h0M301.6 189.1h0M301.6 190.7h0M301.6 192.3h0M301.6 193.9h0M301.6 195.5h0M301.6 197.1h0M304.4 198.6h0M305.4 201.7h0M322.7 207.8h0M324.3 200.5h0M322.2 198.1h0M322.1 196.5h0M322.1 194.9h0M322.1 193.3h0M322.1 191.7h0M322.1 190.1h0M318.5 184.2h0M318.1 182.7h0M230 222.5h0M182.5 225h0M205 225h0M230 225h0M185 230h0M202.5 230h0M200 232.5h0M197.5 235h0M225 235h0M223.9 219.9h0"/><path stroke="#e16751" d="M437.5 97.5h0M440 97.5h0M442.5 97.5h0M445 97.5h0M437.5 100h0M440 100h0M442.5 100h0M445 100h0M437.5 102.5h0M440 102.5h0M442.5 102.5h0M445 102.5h0M442.5 105h0M447.5 110h0M447.5 112.5h0M450 112.5h0M447.5 115h0M450 115h0M447.5 117.5h0M450 117.5h0M447.5 120h0M450 120h0M447.5 122.5h0M450 122.5h0M452.5 122.5h0M455 122.5h0M455 125h0M457.8 140.1h0M457.8 138.5h0M457.8 136.9h0M457.8 135.3h0M457.8 133.7h0M457.8 132.1h0M457.8 130.5h0M457.8 128.9h0M457.8 127.3h0M457.8 125.7h0M457.8 124.1h0M457.8 122.5h0M457.8 120.9h0M436.2 98.3h0M436.2 99.9h0M436.2 101.5h0M436.2 103.1h0"/><path stroke="#c9d7f0" d="M192.5 180h0M190 182.5h0M197.5 182.5h0M185.8 184.9h0M205.1 179h0M275 187.5h0M277.5 187.5h0M290 187.5h0M275 190h0M277.5 190h0M282.5 190h0M285 190h0M287.5 190h0M290 190h0M275 192.5h0M277.5 192.5h0M280 192.5h0M287.5 192.5h0M290 192.5h0M275 195h0M277.5 195h0M280 195h0M287.5 195h0M290 195h0M280 197.5h0M287.5 197.5h0M290 197.5h0M280 200h0M287.5 200h0M290 200h0M280 202.5h0M290 202.5h0M292.5 202.5h0M292.5 205h0M282.5 207.5h0M287.5 207.5h0M292.5 207.5h0M282.5 210h0M292.5 210h0M295.4 210.5h0M295.4 208.9h0M295.4 207.3h0M295.4 205.7h0M295.4 204.1h0M295.3 202.5h0M291.8 197.8h0M291.8 196.2h0M291.8 194.6h0M291.8 193h0M291.8 191.4h0M291.8 189.8h0M291.8 188.2h0M291.8 186.6h0M291.8 185h0M317.5 185h0M317.5 187.5h0M320 187.5h0M315 190h0M317.5 190h0M320 190h0M315 192.5h0M317.5 192.5h0M320 192.5h0M315 195h0M317.5 195h0M320 195h0M317.5 197.5h0M182.5 222.5h0M205 222.5h0M225 222.5h0M227.5 222.5h0M225 225h0M227.5 225h0M225 227.5h0M187.5 230h0M187.5 232.5h0M225 232.5h0M190 235h0M227.5 235h0M192.5 237.5h0M195 237.5h0M227.3 219.9h0"/><path stroke="#de614d" d="M447.5 102.5h0M447.5 105h0M447.5 107.5h0M450 107.5h0M450 110h0M452.5 112.5h0M455 112.5h0M452.5 115h0M455 115h0M452.5 117.5h0M455 117.5h0M452.5 120h0M455 120h0M457.8 119.3h0M457.8 117.7h0M457.8 116.1h0M457.8 114.5h0M457.8 112.9h0M457.8 111.3h0M457.8 109.7h0"/><path stroke="#c5d6f2" d="M202.5 180h0M187.5 185h0M200 185h0M185.8 186.5h0M185.8 188.1h0M205.1 180.6h0M282.5 192.5h0M285 192.5h0M282.5 195h0M285 195h0M282.5 197.5h0M285 197.5h0M282.5 200h0M285 200h0M282.5 202.5h0M285 202.5h0M287.5 202.5h0M282.5 205h0M285 205h0M287.5 205h0M285 207.5h0M285 210h0M185 225h0M187.5 225h0M185 227.5h0M187.5 227.5h0M197.5 227.5h0M200 227.5h0M202.5 227.5h0M227.5 227.5h0M190 230h0M197.5 230h0M200 230h0M225 230h0M227.5 230h0M190 232.5h0M197.5 232.5h0M227.5 232.5h0M195 235h0M183.1 220.1h0"/><path stroke="#da5a49" d="M442.5 80h0M445 80h0M437.5 82.5h0M440 82.5h0M442.5 82.5h0M445 82.5h0M435 85h0M437.5 85h0M440 85h0M442.5 85h0M445 85h0M437.5 87.5h0M440 87.5h0M442.5 87.5h0M445 87.5h0M435 90h0M437.5 90h0M440 90h0M442.5 90h0M445 90h0M435 92.5h0M437.5 92.5h0M440 92.5h0M442.5 92.5h0M445 92.5h0M440 95h0M442.5 95h0M445 95h0M447.5 100h0M450 102.5h0M450 105h0M452.5 110h0M455 110h0M457.8 108.1h0M457.8 106.5h0M457.8 104.9h0M457.8 103.3h0M457.8 101.7h0M436.2 96.7h0"/><path stroke="#c0d4f5" d="M195 180h0M192.5 182.5h0M195 182.5h0M202.5 182.5h0M190 185h0M192.5 185h0M195 185h0M197.5 185h0M202.5 185h0M187.5 187.5h0M200 187.5h0M202.5 187.5h0M185.8 189.7h0M185.8 191.3h0M185.8 192.9h0M185.8 194.5h0M185.8 196.1h0M185.8 197.7h0M185.8 199.3h0M185.8 200.9h0M185.8 202.5h0M185.8 204.1h0M185.8 205.7h0M203.6 217.8h0M205.1 188.6h0M205.1 187h0M205.1 185.4h0M205.1 183.8h0M205.1 182.2h0M185 222.5h0M187.5 222.5h0M200 222.5h0M202.5 222.5h0M190 225h0M197.5 225h0M200 225h0M202.5 225h0M190 227.5h0M203.5 220h0M200.1 220h0M186.5 220.1h0"/><path stroke="#d65244" d="M367.5 35h0M370 35h0M372.5 35h0M375 35h0M377.5 35h0M380 35h0M382.5 35h0M385 35h0M387.5 35h0M390 35h0M392.5 35h0M395 35h0M397.5 35h0M400 35h0M402.5 35h0M405 35h0M407.5 35h0M410 35h0M412.5 35h0M415 35h0M417.5 35h0M420 35h0M422.5 35h0M425 35h0M427.5 35h0M430 35h0M432.5 35h0M435 35h0M437.5 35h0M440 35h0M442.5 35h0M445 35h0M447.5 35h0M450 35h0M452.5 35h0M455 35h0M367.5 37.5h0M370 37.5h0M372.5 37.5h0M375 37.5h0M377.5 37.5h0M380 37.5h0M382.5 37.5h0M385 37.5h0M387.5 37.5h0M390 37.5h0M392.5 37.5h0M395 37.5h0M397.5 37.5h0M400 37.5h0M402.5 37.5h0M405 37.5h0M407.5 37.5h0M410 37.5h0M412.5 37.5h0M415 37.5h0M417.5 37.5h0M420 37.5h0M422.5 37.5h0M425 37.5h0M427.5 37.5h0M430 37.5h0M432.5 37.5h0M435 37.5h0M437.5 37.5h0M440 37.5h0M442.5 37.5h0M445 37.5h0M447.5 37.5h0M450 37.5h0M452.5 37.5h0M455 37.5h0M367.5 40h0M370 40h0M372.5 40h0M375 40h0M377.5 40h0M380 40h0M382.5 40h0M385 40h0M387.5 40h0M390 40h0M392.5 40h0M395 40h0M397.5 40h0M400 40h0M402.5 40h0M405 40h0M407.5 40h0M410 40h0M412.5 40h0M415 40h0M417.5 40h0M420 40h0M422.5 40h0M425 40h0M427.5 40h0M430 40h0M432.5 40h0M435 40h0M437.5 40h0M440 40h0M442.5 40h0M445 40h0M447.5 40h0M450 40h0M452.5 40h0M455 40h0M365 42.5h0M367.5 42.5h0M370 42.5h0M372.5 42.5h0M375 42.5h0M377.5 42.5h0M380 42.5h0M382.5 42.5h0M385 42.5h0M387.5 42.5h0M390 42.5h0M392.5 42.5h0M395 42.5h0M397.5 42.5h0M400 42.5h0M402.5 42.5h0M405 42.5h0M407.5 42.5h0M410 42.5h0M412.5 42.5h0M415 42.5h0M417.5 42.5h0M420 42.5h0M422.5 42.5h0M425 42.5h0M427.5 42.5h0M430 42.5h0M432.5 42.5h0M435 42.5h0M437.5 42.5h0M440 42.5h0M442.5 42.5h0M445 42.5h0M447.5 42.5h0M450 42.5h0M452.5 42.5h0M455 42.5h0M365 45h0M367.5 45h0M370 45h0M372.5 45h0M375 45h0M377.5 45h0M380 45h0M382.5 45h0M385 45h0M387.5 45h0M390 45h0M392.5 45h0M395 45h0M397.5 45h0M400 45h0M402.5 45h0M405 45h0M407.5 45h0M410 45h0M412.5 45h0M415 45h0M417.5 45h0M420 45h0M422.5 45h0M425 45h0M427.5 45h0M430 45h0M432.5 45h0M435 45h0M437.5 45h0M440 45h0M442.5 45h0M445 45h0M447.5 45h0M450 45h0M452.5 45h0M455 45h0M365 47.5h0M367.5 47.5h0M370 47.5h0M372.5 47.5h0M375 47.5h0M377.5 47.5h0M380 47.5h0M382.5 47.5h0M385 47.5h0M387.5 47.5h0M390 47.5h0M392.5 47.5h0M395 47.5h0M397.5 47.5h0M400 47.5h0M402.5 47.5h0M405 47.5h0M407.5 47.5h0M410 47.5h0M412.5 47.5h0M415 47.5h0M417.5 47.5h0M420 47.5h0M422.5 47.5h0M425 47.5h0M427.5 47.5h0M430 47.5h0M432.5 47.5h0M435 47.5h0M437.5 47.5h0M440 47.5h0M442.5 47.5h0M445 47.5h0M447.5 47.5h0M450 47.5h0M395 50h0M397.5 50h0M400 50h0M402.5 50h0M405 50h0M407.5 50h0M410 50h0M412.5 50h0M415 50h0M417.5 50h0M420 50h0M422.5 50h0M425 50h0M427.5 50h0M430 50h0M432.5 50h0M435 50h0M437.5 50h0M440 50h0M442.5 50h0M445 50h0M447.5 50h0M450 50h0M412.5 52.5h0M415 52.5h0M417.5 52.5h0M420 52.5h0M422.5 52.5h0M425 52.5h0M427.5 52.5h0M430 52.5h0M432.5 52.5h0M435 52.5h0M437.5 52.5h0M440 52.5h0M442.5 52.5h0M445 52.5h0M447.5 52.5h0M450 52.5h0M415 55h0M417.5 55h0M420 55h0M422.5 55h0M425 55h0M427.5 55h0M430 55h0M432.5 55h0M435 55h0M437.5 55h0M440 55h0M442.5 55h0M445 55h0M447.5 55h0M415 57.5h0M417.5 57.5h0M420 57.5h0M422.5 57.5h0M425 57.5h0M427.5 57.5h0M430 57.5h0M432.5 57.5h0M435 57.5h0M437.5 57.5h0M440 57.5h0M442.5 57.5h0M445 57.5h0M410 60h0M412.5 60h0M415 60h0M417.5 60h0M420 60h0M422.5 60h0M425 60h0M427.5 60h0M430 60h0M432.5 60h0M435 60h0M437.5 60h0M440 60h0M442.5 60h0M445 60h0M410 62.5h0M412.5 62.5h0M415 62.5h0M417.5 62.5h0M420 62.5h0M422.5 62.5h0M425 62.5h0M427.5 62.5h0M430 62.5h0M432.5 62.5h0M435 62.5h0M437.5 62.5h0M440 62.5h0M442.5 62.5h0M445 62.5h0M415 65h0M417.5 65h0M420 65h0M422.5 65h0M425 65h0M427.5 65h0M430 65h0M432.5 65h0M435 65h0M437.5 65h0M440 65h0M442.5 65h0M445 65h0M417.5 67.5h0M420 67.5h0M422.5 67.5h0M425 67.5h0M427.5 67.5h0M430 67.5h0M432.5 67.5h0M435 67.5h0M437.5 67.5h0M440 67.5h0M442.5 67.5h0M445 67.5h0M417.5 70h0M420 70h0M422.5 70h0M425 70h0M427.5 70h0M430 70h0M432.5 70h0M435 70h0M437.5 70h0M440 70h0M442.5 70h0M445 70h0M420 72.5h0M422.5 72.5h0M425 72.5h0M427.5 72.5h0M430 72.5h0M432.5 72.5h0M435 72.5h0M437.5 72.5h0M440 72.5h0M442.5 72.5h0M445 72.5h0M430 75h0M432.5 75h0M435 75h0M437.5 75h0M440 75h0M442.5 75h0M445 75h0M425 77.5h0M427.5 77.5h0M430 77.5h0M432.5 77.5h0M435 77.5h0M437.5 77.5h0M440 77.5h0M442.5 77.5h0M445 77.5h0M425 80h0M427.5 80h0M430 80h0M432.5 80h0M435 80h0M437.5 80h0M440 80h0M427.5 82.5h0M430 82.5h0M432.5 82.5h0M435 82.5h0M432.5 85h0M435 87.5h0M437.5 95h0M447.5 95h0M447.5 97.5h0M450 97.5h0M450 100h0M452.5 105h0M455 105h0M452.5 107.5h0M455 107.5h0M457.8 100.1h0M457.8 52.1h0M457.8 50.5h0M457.8 48.9h0M457.8 47.3h0M457.8 45.7h0M457.8 44.1h0M457.8 42.5h0M457.8 40.9h0M457.8 39.3h0M457.8 37.7h0M457.8 36.1h0M457.8 34.5h0M457.8 32.9h0M457.4 31.6h0M454 31.6h0M450.6 31.6h0M447.2 31.6h0M443.8 31.6h0M440.4 31.6h0M437 31.6h0M433.6 31.6h0M430.2 31.6h0M426.8 31.6h0M423.4 31.6h0M420 31.6h0M416.6 31.6h0M413.2 31.6h0M409.8 31.6h0M406.4 31.6h0M403 31.6h0M399.6 31.6h0M396.2 31.6h0M392.8 31.6h0M389.4 31.6h0M386 31.6h0M382.6 31.6h0M379.2 31.6h0M375.8 31.6h0M372.4 31.6h0M369 31.6h0M366.2 32.3h0M366.2 33.9h0M366.2 35.5h0M366.2 37.1h0M365.6 38.6h0M362.5 39.7h0M362.2 41.1h0M362.2 42.7h0M362.2 44.3h0M362.2 45.9h0M362.2 47.5h0M434.4 93.9h0"/><path stroke="#bcd2f7" d="M190 187.5h0M192.5 187.5h0M195 187.5h0M197.5 187.5h0M187.5 190h0M190 190h0M192.5 190h0M202.5 190h0M187.5 192.5h0M190 192.5h0M192.5 192.5h0M202.5 192.5h0M187.5 195h0M190 195h0M187.5 197.5h0M190 197.5h0M187.5 200h0M187.5 202.5h0M187.5 205h0M187.5 207.5h0M187.5 210h0M202.5 210h0M187.5 212.5h0M202.5 212.5h0M187.5 215h0M202.5 215h0M185.8 207.3h0M185.8 208.9h0M185.8 210.5h0M185.8 212.1h0M185.8 213.7h0M185.8 215.3h0M185.8 216.9h0M186.6 217.8h0M190 217.8h0M200.2 217.8h0M205.1 215.8h0M205.1 214.2h0M205.1 212.6h0M205.1 211h0M205.1 209.4h0M205.1 207.8h0M205.1 206.2h0M205.1 204.6h0M205.1 193.4h0M205.1 191.8h0M205.1 190.2h0M190 222.5h0M197.5 222.5h0M195 232.5h0M192.5 235h0M189.9 220.1h0"/><path stroke="#d24b40" d="M452.5 47.5h0M455 47.5h0M365 50h0M367.5 50h0M370 50h0M372.5 50h0M375 50h0M377.5 50h0M380 50h0M382.5 50h0M385 50h0M387.5 50h0M390 50h0M392.5 50h0M452.5 50h0M455 50h0M407.5 52.5h0M410 52.5h0M452.5 52.5h0M455 52.5h0M410 55h0M412.5 55h0M450 55h0M452.5 55h0M455 55h0M407.5 57.5h0M410 57.5h0M412.5 57.5h0M447.5 57.5h0M450 57.5h0M407.5 60h0M447.5 60h0M450 60h0M447.5 62.5h0M450 62.5h0M410 65h0M412.5 65h0M447.5 65h0M450 65h0M415 67.5h0M447.5 67.5h0M450 67.5h0M415 70h0M447.5 70h0M417.5 72.5h0M422.5 75h0M425 75h0M427.5 75h0M432.5 87.5h0M447.5 92.5h0M450 92.5h0M450 95h0M452.5 102.5h0M455 102.5h0M457.8 98.5h0M457.8 96.9h0M457.8 63.3h0M457.8 61.7h0M457.8 60.1h0M457.8 58.5h0M457.8 56.9h0M457.8 55.3h0M457.8 53.7h0M362.2 49.1h0M423 81.2h0M430 88.7h0M432.3 91.2h0"/><path stroke="#b9d0f9" d="M195 190h0M200 190h0M200 192.5h0M192.5 195h0M202.5 195h0M192.5 197.5h0M202.5 197.5h0M190 200h0M202.5 200h0M202.5 202.5h0M202.5 205h0M202.5 207.5h0M190 212.5h0M190 215h0M200 215h0M193.4 217.8h0M205.1 203h0M205.1 201.4h0M205.1 199.8h0M205.1 198.2h0M205.1 196.6h0M205.1 195h0M192.5 222.5h0M195 222.5h0M195 225h0M195 227.5h0M195 230h0M192.5 232.5h0M193.3 220.1h0"/><path stroke="#cf453c" d="M402.5 52.5h0M405 52.5h0M405 55h0M407.5 55h0M405 57.5h0M452.5 57.5h0M455 57.5h0M452.5 60h0M455 60h0M412.5 67.5h0M450 70h0M447.5 72.5h0M450 72.5h0M420 75h0M447.5 75h0M450 75h0M422.5 77.5h0M447.5 77.5h0M450 77.5h0M447.5 80h0M450 80h0M447.5 82.5h0M450 82.5h0M430 85h0M447.5 85h0M450 85h0M447.5 87.5h0M450 87.5h0M447.5 90h0M450 90h0M452.5 100h0M455 100h0M457.8 95.3h0M457.8 93.7h0M457.8 92.1h0M457.8 79.3h0M457.8 77.7h0M457.8 76.1h0M457.8 74.5h0M457.8 72.9h0M457.8 71.3h0M457.8 69.7h0M457.8 68.1h0M457.8 66.5h0M457.8 64.9h0M361.6 50.6h0M405 60.9h0M407.3 63.4h0M409.5 66h0M411.7 68.6h0M413.9 71.1h0M416.2 73.7h0M425.4 83.7h0"/><path stroke="#b3cdfb" d="M197.5 190h0M195 192.5h0M195 195h0M200 195h0M195 197.5h0M200 197.5h0M192.5 200h0M195 200h0M200 200h0M190 202.5h0M195 202.5h0M200 202.5h0M190 205h0M200 205h0M190 207.5h0M190 210h0M192.5 212.5h0M192.5 215h0M192.5 225h0M192.5 227.5h0M192.5 230h0M196.7 220.1h0"/><path stroke="#ca3b37" d="M392.5 52.5h0M395 52.5h0M397.5 52.5h0M400 52.5h0M402.5 55h0M402.5 57.5h0M452.5 62.5h0M455 62.5h0M455 65h0M455 67.5h0M455 95h0M452.5 97.5h0M455 97.5h0M457.8 90.5h0M457.8 88.9h0M457.8 87.3h0M457.8 85.7h0M457.8 84.1h0M457.8 82.5h0M457.8 80.9h0M402.1 59.1h0M418.4 76.3h0M420.7 78.8h0M427.7 86.2h0"/><path stroke="#afcafc" d="M197.5 192.5h0M197.5 195h0M197.5 197.5h0M197.5 200h0M192.5 202.5h0M197.5 202.5h0M192.5 205h0M195 205h0M197.5 205h0M192.5 207.5h0M195 207.5h0M197.5 207.5h0M200 207.5h0M192.5 210h0M195 210h0M197.5 210h0M200 210h0M195 212.5h0M197.5 212.5h0M200 212.5h0M195 215h0M197.5 215h0M196.8 217.8h0"/><path stroke="#c53334" d="M360 52.5h0M362.5 52.5h0M365 52.5h0M367.5 52.5h0M370 52.5h0M372.5 52.5h0M375 52.5h0M377.5 52.5h0M380 52.5h0M382.5 52.5h0M385 52.5h0M387.5 52.5h0M390 52.5h0M360 55h0M362.5 55h0M365 55h0M367.5 55h0M370 55h0M372.5 55h0M375 55h0M377.5 55h0M380 55h0M382.5 55h0M385 55h0M387.5 55h0M390 55h0M392.5 55h0M395 55h0M397.5 55h0M400 55h0M452.5 65h0M452.5 67.5h0M452.5 70h0M455 70h0M455 72.5h0M452.5 80h0M455 80h0M455 82.5h0M452.5 92.5h0M455 92.5h0M452.5 95h0M358.6 51.9h0M358.6 53.5h0M358.6 55.1h0M358.6 56.7h0M362 56.8h0M365.4 56.8h0M368.8 56.8h0M372.2 56.8h0M375.6 56.8h0M379 56.8h0M382.4 56.8h0M385.8 56.8h0M389.2 56.8h0M392.6 56.8h0M396 56.8h0M399.3 57.2h0"/><path stroke="#c12b30" d="M452.5 72.5h0M452.5 75h0M455 75h0M452.5 77.5h0M455 77.5h0M452.5 82.5h0M452.5 85h0M455 85h0M452.5 87.5h0M455 87.5h0M452.5 90h0M455 90h0"/></g><line x1="193" y1="233" x2="193" y2="240" stroke="#799cf8" stroke-width="4.4" stroke-linecap="round"/><line x1="193" y1="236" x2="193" y2="243" stroke="#4c66d6" stroke-width="3" stroke-linecap="round"/><line x1="193" y1="240" x2="193" y2="246" stroke="#3c4ec2" stroke-width="1.8" stroke-linecap="round"/><line x1="226.6" y1="233" x2="226.6" y2="240" stroke="#a1c0ff" stroke-width="3.6" stroke-linecap="round"/><line x1="226.6" y1="235" x2="226.6" y2="241" stroke="#84a7fc" stroke-width="2.4" stroke-linecap="round"/><line x1="288.4" y1="228.5" x2="288.4" y2="233.5" stroke="#bcd2f7" stroke-width="7.4" stroke-linecap="round"/><line x1="288.4" y1="228" x2="288.4" y2="234" stroke="#a1c0ff" stroke-width="5" stroke-linecap="round"/><line x1="288" y1="228.5" x2="288" y2="233.5" stroke="#7396f5" stroke-width="2.6" stroke-linecap="round"/><line x1="405.5" y1="206" x2="405.5" y2="213" stroke="#ea7b60" stroke-width="2.2" stroke-linecap="round"/><line x1="403.5" y1="212" x2="403.5" y2="220" stroke="#ea7b60" stroke-width="2.2" stroke-linecap="round"/><line x1="320.7" y1="221.5" x2="320.7" y2="229" stroke="#799cf8" stroke-width="4.6" stroke-linecap="round"/><line x1="320.7" y1="224" x2="320.7" y2="231" stroke="#4c66d6" stroke-width="3" stroke-linecap="round"/><line x1="320.7" y1="229" x2="320.7" y2="234.5" stroke="#3e51c5" stroke-width="1.5" stroke-linecap="round"/><circle cx="332.4" cy="239.3" r="3.2" fill="#e26952"/><circle cx="457" cy="189" r="2" fill="#c32e31"/><circle cx="220" cy="287" r="2.5" fill="#e8765c"/><circle cx="366" cy="188" r="2.6" fill="#e46e56"/><g stroke="#fff" fill="none" stroke-width="1"><path d="M445.6 29V217.5" stroke-width="1.3"/><path d="M269 258.8L302 250.3L337.2 241.6L380 231L390 228.5L404 223.8M414 227.2L440 220.6" stroke-dasharray="5.5 2.3" stroke-width="1.4"/><path d="M287 268L300 264.6"/></g><circle cx="425" cy="184" r="1.5" fill="#fff"/>
<rect x="481.9" y="14.5" width="15.9" height="308.5" fill="url(#cb)"/><g stroke="#1a1a1a" stroke-width="0.95" fill="none"><rect x="42.5" y="14.5" width="434.1" height="308.5"/><rect x="481.9" y="14.5" width="15.9" height="308.5"/><path d="M72.4 323v3.3"/><path d="M124.61 323v3.3"/><path d="M176.83 323v3.3"/><path d="M229.04 323v3.3"/><path d="M281.26 323v3.3"/><path d="M333.47 323v3.3"/><path d="M385.69 323v3.3"/><path d="M437.9 323v3.3"/><path d="M42.5 323h-3.3"/><path d="M42.5 271.58h-3.3"/><path d="M42.5 220.17h-3.3"/><path d="M42.5 168.75h-3.3"/><path d="M42.5 117.33h-3.3"/><path d="M42.5 65.92h-3.3"/><path d="M42.5 14.5h-3.3"/><path d="M497.8 14.5h3.3"/><path d="M497.8 65.92h3.3"/><path d="M497.8 117.33h3.3"/><path d="M497.8 168.75h3.3"/><path d="M497.8 220.17h3.3"/><path d="M497.8 271.58h3.3"/><path d="M497.8 323h3.3"/></g><g font-family="'DejaVu Sans','Liberation Sans',sans-serif" font-size="9.5" fill="#000" stroke="#000" stroke-width="0.2"><text x="72.8" y="336.6" text-anchor="middle">25</text><text x="125.01" y="336.6" text-anchor="middle">30</text><text x="177.23" y="336.6" text-anchor="middle">35</text><text x="229.44" y="336.6" text-anchor="middle">40</text><text x="281.66" y="336.6" text-anchor="middle">45</text><text x="333.87" y="336.6" text-anchor="middle">50</text><text x="386.09" y="336.6" text-anchor="middle">55</text><text x="438.3" y="336.6" text-anchor="middle">60</text><text x="36.1" y="326.8" text-anchor="end">0</text><text x="36.1" y="275.38" text-anchor="end">5</text><text x="36.1" y="223.97" text-anchor="end">10</text><text x="36.1" y="172.55" text-anchor="end">15</text><text x="36.1" y="121.13" text-anchor="end">20</text><text x="36.1" y="69.72" text-anchor="end">25</text><text x="36.1" y="18.3" text-anchor="end">30</text><text x="503.4" y="17.9">90.7</text><text x="503.4" y="69.32">85.6</text><text x="503.4" y="120.73">80.5</text><text x="503.4" y="172.15">75.4</text><text x="503.4" y="223.57">70.3</text><text x="503.4" y="274.98">65.2</text><text x="503.4" y="326.4">60.1</text></g><g font-family="'DejaVu Sans','Liberation Sans',sans-serif" font-size="13.85" fill="#000" stroke="#000" stroke-width="0.15" text-anchor="middle"><text x="259.2" y="353.4">Distance X [m]</text><text transform="translate(17.7 168.7) rotate(-90)">Distance Y [m]</text><text transform="translate(544 168) rotate(-90)">Relative Humidity [%]: ground truth</text></g><text x="292.6" y="391.2" text-anchor="middle" font-family="'Liberation Serif','DejaVu Serif',serif" font-size="19.6" fill="#111">(<tspan font-weight="bold">a</tspan>)</text>
</svg></body></html>
